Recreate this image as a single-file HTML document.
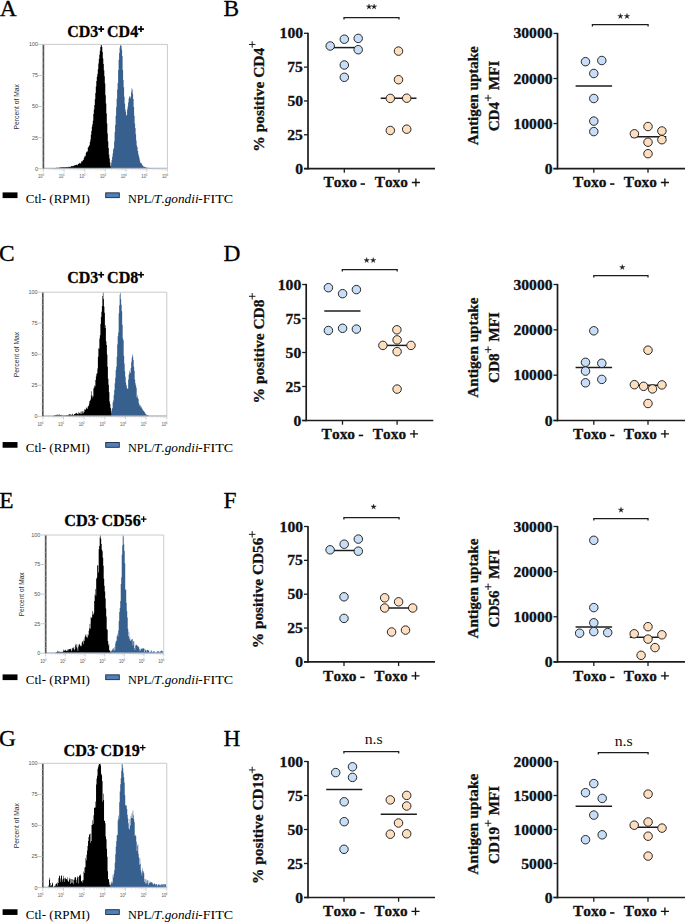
<!DOCTYPE html><html><head><meta charset="utf-8"><style>html,body{margin:0;padding:0;background:#fff;width:685px;height:922px;overflow:hidden}svg{display:block}text{font-kerning:none}</style></head><body><svg width="685" height="922" viewBox="0 0 685 922"><rect width="685" height="922" fill="#fff"/>
<text x="-0.23" y="15.60" font-family="&quot;Liberation Serif&quot;, serif" font-size="23.4" fill="#000" stroke="#000" stroke-width="0.3">A</text>
<text x="223.50" y="15.60" font-family="&quot;Liberation Serif&quot;, serif" font-size="23.4" fill="#000" stroke="#000" stroke-width="0.3">B</text>
<path d="M43.80,168.70 L43.80,168.65 L44.30,168.65 L44.30,168.62 L44.80,168.62 L44.80,168.61 L45.30,168.61 L45.30,168.57 L45.80,168.57 L45.80,168.57 L46.30,168.57 L46.30,168.53 L46.80,168.53 L46.80,168.50 L47.30,168.50 L47.30,168.50 L47.80,168.50 L47.80,168.45 L48.30,168.45 L48.30,168.45 L48.80,168.45 L48.80,168.40 L49.30,168.40 L49.30,168.37 L49.80,168.37 L49.80,168.38 L50.30,168.38 L50.30,168.42 L50.80,168.42 L50.80,168.30 L51.30,168.30 L51.30,168.27 L51.80,168.27 L51.80,168.28 L52.30,168.28 L52.30,168.33 L52.80,168.33 L52.80,168.19 L53.30,168.19 L53.30,168.10 L53.80,168.10 L53.80,168.23 L54.30,168.23 L54.30,167.95 L54.80,167.95 L54.80,168.12 L55.30,168.12 L55.30,167.89 L55.80,167.89 L55.80,167.82 L56.30,167.82 L56.30,167.76 L56.80,167.76 L56.80,167.75 L57.30,167.75 L57.30,167.91 L57.80,167.91 L57.80,167.63 L58.30,167.63 L58.30,167.72 L58.80,167.72 L58.80,167.70 L59.30,167.70 L59.30,167.55 L59.80,167.55 L59.80,167.59 L60.30,167.59 L60.30,167.39 L60.80,167.39 L60.80,167.34 L61.30,167.34 L61.30,167.34 L61.80,167.34 L61.80,167.52 L62.30,167.52 L62.30,167.34 L62.80,167.34 L62.80,167.25 L63.30,167.25 L63.30,167.36 L63.80,167.36 L63.80,167.24 L64.30,167.24 L64.30,167.13 L64.80,167.13 L64.80,167.40 L65.30,167.40 L65.30,167.29 L65.80,167.29 L65.80,166.99 L66.30,166.99 L66.30,167.13 L66.80,167.13 L66.80,167.06 L67.30,167.06 L67.30,167.31 L67.80,167.31 L67.80,167.15 L68.30,167.15 L68.30,166.81 L68.80,166.81 L68.80,167.33 L69.30,167.33 L69.30,166.65 L69.80,166.65 L69.80,166.76 L70.30,166.76 L70.30,166.91 L70.80,166.91 L70.80,166.27 L71.30,166.27 L71.30,166.32 L71.80,166.32 L71.80,165.87 L72.30,165.87 L72.30,166.19 L72.80,166.19 L72.80,166.16 L73.30,166.16 L73.30,165.75 L73.80,165.75 L73.80,166.04 L74.30,166.04 L74.30,165.11 L74.80,165.11 L74.80,165.44 L75.30,165.44 L75.30,165.12 L75.80,165.12 L75.80,164.93 L76.30,164.93 L76.30,164.58 L76.80,164.58 L76.80,165.10 L77.30,165.10 L77.30,165.19 L77.80,165.19 L77.80,163.97 L78.30,163.97 L78.30,164.01 L78.80,164.01 L78.80,162.78 L79.30,162.78 L79.30,163.46 L79.80,163.46 L79.80,163.01 L80.30,163.01 L80.30,163.70 L80.80,163.70 L80.80,162.86 L81.30,162.86 L81.30,161.22 L81.80,161.22 L81.80,161.06 L82.30,161.06 L82.30,161.45 L82.80,161.45 L82.80,159.83 L83.30,159.83 L83.30,159.95 L83.80,159.95 L83.80,158.09 L84.30,158.09 L84.30,156.76 L84.80,156.76 L84.80,155.43 L85.30,155.43 L85.30,156.35 L85.80,156.35 L85.80,152.99 L86.30,152.99 L86.30,151.90 L86.80,151.90 L86.80,150.94 L87.30,150.94 L87.30,151.74 L87.80,151.74 L87.80,147.38 L88.30,147.38 L88.30,146.96 L88.80,146.96 L88.80,145.95 L89.30,145.95 L89.30,145.06 L89.80,145.06 L89.80,142.05 L90.30,142.05 L90.30,139.49 L90.80,139.49 L90.80,134.78 L91.30,134.78 L91.30,130.92 L91.80,130.92 L91.80,126.86 L92.30,126.86 L92.30,124.35 L92.80,124.35 L92.80,120.65 L93.30,120.65 L93.30,113.93 L93.80,113.93 L93.80,109.48 L94.30,109.48 L94.30,105.10 L94.80,105.10 L94.80,99.27 L95.30,99.27 L95.30,92.99 L95.80,92.99 L95.80,86.44 L96.30,86.44 L96.30,80.94 L96.80,80.94 L96.80,76.67 L97.30,76.67 L97.30,74.11 L97.80,74.11 L97.80,69.16 L98.30,69.16 L98.30,63.46 L98.80,63.46 L98.80,59.07 L99.30,59.07 L99.30,54.78 L99.80,54.78 L99.80,50.75 L100.30,50.75 L100.30,46.94 L100.80,46.94 L100.80,45.32 L101.30,45.32 L101.30,44.93 L101.80,44.93 L101.80,46.88 L102.30,46.88 L102.30,52.10 L102.80,52.10 L102.80,58.43 L103.30,58.43 L103.30,63.96 L103.80,63.96 L103.80,70.31 L104.30,70.31 L104.30,76.27 L104.80,76.27 L104.80,83.47 L105.30,83.47 L105.30,95.18 L105.80,95.18 L105.80,103.40 L106.30,103.40 L106.30,113.39 L106.80,113.39 L106.80,123.54 L107.30,123.54 L107.30,133.48 L107.80,133.48 L107.80,141.56 L108.30,141.56 L108.30,148.12 L108.80,148.12 L108.80,154.58 L109.30,154.58 L109.30,158.46 L109.80,158.46 L109.80,162.13 L110.30,162.13 L110.30,165.64 L110.80,165.64 L110.80,166.55 L111.30,166.55 L111.30,167.96 L111.74,167.96 L111.74,168.70 Z" fill="#000" />
<path d="M110.60,168.70 L110.60,166.12 L111.10,166.12 L111.10,162.76 L111.60,162.76 L111.60,159.95 L112.10,159.95 L112.10,156.76 L112.60,156.76 L112.60,153.39 L113.10,153.39 L113.10,149.32 L113.60,149.32 L113.60,148.02 L114.10,148.02 L114.10,141.38 L114.60,141.38 L114.60,131.92 L115.10,131.92 L115.10,124.97 L115.60,124.97 L115.60,115.76 L116.10,115.76 L116.10,107.21 L116.60,107.21 L116.60,98.86 L117.10,98.86 L117.10,89.41 L117.60,89.41 L117.60,82.95 L118.10,82.95 L118.10,70.05 L118.60,70.05 L118.60,59.78 L119.10,59.78 L119.10,52.89 L119.60,52.89 L119.60,47.44 L120.10,47.44 L120.10,45.43 L120.60,45.43 L120.60,44.93 L121.10,44.93 L121.10,46.11 L121.60,46.11 L121.60,49.64 L122.10,49.64 L122.10,56.09 L122.60,56.09 L122.60,69.93 L123.10,69.93 L123.10,79.93 L123.60,79.93 L123.60,87.25 L124.10,87.25 L124.10,96.78 L124.60,96.78 L124.60,103.86 L125.10,103.86 L125.10,109.27 L125.60,109.27 L125.60,111.87 L126.10,111.87 L126.10,115.29 L126.60,115.29 L126.60,115.31 L127.10,115.31 L127.10,109.49 L127.60,109.49 L127.60,106.44 L128.10,106.44 L128.10,102.52 L128.60,102.52 L128.60,98.74 L129.10,98.74 L129.10,96.76 L129.60,96.76 L129.60,96.25 L130.10,96.25 L130.10,98.29 L130.60,98.29 L130.60,96.60 L131.10,96.60 L131.10,91.79 L131.60,91.79 L131.60,88.22 L132.10,88.22 L132.10,89.50 L132.60,89.50 L132.60,93.66 L133.10,93.66 L133.10,99.08 L133.60,99.08 L133.60,106.99 L134.10,106.99 L134.10,115.82 L134.60,115.82 L134.60,123.52 L135.10,123.52 L135.10,128.05 L135.60,128.05 L135.60,134.35 L136.10,134.35 L136.10,140.48 L136.60,140.48 L136.60,145.56 L137.10,145.56 L137.10,147.25 L137.60,147.25 L137.60,151.11 L138.10,151.11 L138.10,153.74 L138.60,153.74 L138.60,155.66 L139.10,155.66 L139.10,157.65 L139.60,157.65 L139.60,160.62 L140.10,160.62 L140.10,162.46 L140.60,162.46 L140.60,163.08 L141.10,163.08 L141.10,163.06 L141.60,163.06 L141.60,164.30 L142.10,164.30 L142.10,165.42 L142.60,165.42 L142.60,165.35 L143.10,165.35 L143.10,166.14 L143.60,166.14 L143.60,166.71 L144.10,166.71 L144.10,166.78 L144.60,166.78 L144.60,166.98 L145.10,166.98 L145.10,167.02 L145.60,167.02 L145.60,167.16 L146.10,167.16 L146.10,167.72 L146.60,167.72 L146.60,167.63 L147.10,167.63 L147.10,167.87 L147.60,167.87 L147.60,168.00 L148.10,168.00 L148.10,167.79 L148.60,167.79 L148.60,167.84 L149.10,167.84 L149.10,168.09 L149.60,168.09 L149.60,168.04 L150.10,168.04 L150.10,167.93 L150.60,167.93 L150.60,167.97 L151.10,167.97 L151.10,168.03 L151.60,168.03 L151.60,168.25 L152.10,168.25 L152.10,168.26 L152.60,168.26 L152.60,168.17 L153.10,168.17 L153.10,168.34 L153.60,168.34 L153.60,168.41 L154.10,168.41 L154.10,168.37 L154.60,168.37 L154.60,168.34 L155.10,168.34 L155.10,168.38 L155.60,168.38 L155.60,168.35 L156.10,168.35 L156.10,168.37 L156.60,168.37 L156.60,168.49 L157.10,168.49 L157.10,168.45 L157.60,168.45 L157.60,168.45 L158.10,168.45 L158.10,168.52 L158.60,168.52 L158.60,168.47 L159.10,168.47 L159.10,168.53 L159.60,168.53 L159.60,168.54 L160.10,168.54 L160.10,168.51 L160.60,168.51 L160.60,168.52 L161.10,168.52 L161.10,168.54 L161.60,168.54 L161.60,168.56 L162.10,168.56 L162.10,168.59 L162.60,168.59 L162.60,168.59 L163.10,168.59 L163.10,168.61 L163.60,168.61 L163.60,168.62 L164.10,168.62 L164.10,168.65 L164.60,168.65 L164.60,168.65 L165.10,168.65 L165.10,168.67 L165.26,168.67 L165.26,168.70 Z" fill="#37608f" />
<line x1="43.4" y1="168.2" x2="167.4" y2="168.2" stroke="#8fa9c9" stroke-width="0.8"/>
<path d="M43.4,44.4 L167.4,44.4 L167.4,168.7 L43.4,168.7" fill="none" stroke="#c4c4c4" stroke-width="0.9"/>
<line x1="43.4" y1="44.8" x2="43.4" y2="168.7" stroke="#555" stroke-width="1.7"/>
<line x1="38.199999999999996" y1="168.70" x2="43.4" y2="168.70" stroke="#bdbdbd" stroke-width="0.8"/>
<text x="38.00" y="170.60" font-family="&quot;Liberation Sans&quot;, sans-serif" font-size="5.4" fill="#555" text-anchor="end" >0</text>
<line x1="41.0" y1="162.48" x2="43.4" y2="162.48" stroke="#d8d8d8" stroke-width="0.6"/>
<line x1="41.0" y1="156.27" x2="43.4" y2="156.27" stroke="#d8d8d8" stroke-width="0.6"/>
<line x1="41.0" y1="150.06" x2="43.4" y2="150.06" stroke="#d8d8d8" stroke-width="0.6"/>
<line x1="41.0" y1="143.84" x2="43.4" y2="143.84" stroke="#d8d8d8" stroke-width="0.6"/>
<line x1="38.199999999999996" y1="137.62" x2="43.4" y2="137.62" stroke="#bdbdbd" stroke-width="0.8"/>
<text x="38.00" y="139.53" font-family="&quot;Liberation Sans&quot;, sans-serif" font-size="5.4" fill="#555" text-anchor="end" >25</text>
<line x1="41.0" y1="131.41" x2="43.4" y2="131.41" stroke="#d8d8d8" stroke-width="0.6"/>
<line x1="41.0" y1="125.19" x2="43.4" y2="125.19" stroke="#d8d8d8" stroke-width="0.6"/>
<line x1="41.0" y1="118.98" x2="43.4" y2="118.98" stroke="#d8d8d8" stroke-width="0.6"/>
<line x1="41.0" y1="112.77" x2="43.4" y2="112.77" stroke="#d8d8d8" stroke-width="0.6"/>
<line x1="38.199999999999996" y1="106.55" x2="43.4" y2="106.55" stroke="#bdbdbd" stroke-width="0.8"/>
<text x="38.00" y="108.45" font-family="&quot;Liberation Sans&quot;, sans-serif" font-size="5.4" fill="#555" text-anchor="end" >50</text>
<line x1="41.0" y1="100.33" x2="43.4" y2="100.33" stroke="#d8d8d8" stroke-width="0.6"/>
<line x1="41.0" y1="94.12" x2="43.4" y2="94.12" stroke="#d8d8d8" stroke-width="0.6"/>
<line x1="41.0" y1="87.91" x2="43.4" y2="87.91" stroke="#d8d8d8" stroke-width="0.6"/>
<line x1="41.0" y1="81.69" x2="43.4" y2="81.69" stroke="#d8d8d8" stroke-width="0.6"/>
<line x1="38.199999999999996" y1="75.48" x2="43.4" y2="75.48" stroke="#bdbdbd" stroke-width="0.8"/>
<text x="38.00" y="77.38" font-family="&quot;Liberation Sans&quot;, sans-serif" font-size="5.4" fill="#555" text-anchor="end" >75</text>
<line x1="41.0" y1="69.26" x2="43.4" y2="69.26" stroke="#d8d8d8" stroke-width="0.6"/>
<line x1="41.0" y1="63.05" x2="43.4" y2="63.05" stroke="#d8d8d8" stroke-width="0.6"/>
<line x1="41.0" y1="56.83" x2="43.4" y2="56.83" stroke="#d8d8d8" stroke-width="0.6"/>
<line x1="41.0" y1="50.62" x2="43.4" y2="50.62" stroke="#d8d8d8" stroke-width="0.6"/>
<line x1="38.199999999999996" y1="44.40" x2="43.4" y2="44.40" stroke="#bdbdbd" stroke-width="0.8"/>
<text x="38.00" y="46.30" font-family="&quot;Liberation Sans&quot;, sans-serif" font-size="5.4" fill="#555" text-anchor="end" >100</text>
<line x1="43.40" y1="168.7" x2="43.40" y2="171.89999999999998" stroke="#bdbdbd" stroke-width="0.7"/>
<line x1="49.62" y1="168.7" x2="49.62" y2="170.5" stroke="#d0d0d0" stroke-width="0.5"/>
<line x1="53.26" y1="168.7" x2="53.26" y2="170.5" stroke="#d0d0d0" stroke-width="0.5"/>
<line x1="55.84" y1="168.7" x2="55.84" y2="170.5" stroke="#d0d0d0" stroke-width="0.5"/>
<line x1="57.85" y1="168.7" x2="57.85" y2="170.5" stroke="#d0d0d0" stroke-width="0.5"/>
<line x1="59.48" y1="168.7" x2="59.48" y2="170.5" stroke="#d0d0d0" stroke-width="0.5"/>
<line x1="60.87" y1="168.7" x2="60.87" y2="170.5" stroke="#d0d0d0" stroke-width="0.5"/>
<line x1="62.06" y1="168.7" x2="62.06" y2="170.5" stroke="#d0d0d0" stroke-width="0.5"/>
<line x1="63.12" y1="168.7" x2="63.12" y2="170.5" stroke="#d0d0d0" stroke-width="0.5"/>
<text x="38.00" y="178.00" font-family="&quot;Liberation Sans&quot;, sans-serif" font-size="5.4" fill="#555" text-anchor="start" textLength="6.0" lengthAdjust="spacingAndGlyphs">10<tspan dy="-1.8" font-size="3.2">0</tspan></text>
<line x1="64.07" y1="168.7" x2="64.07" y2="171.89999999999998" stroke="#bdbdbd" stroke-width="0.7"/>
<line x1="70.29" y1="168.7" x2="70.29" y2="170.5" stroke="#d0d0d0" stroke-width="0.5"/>
<line x1="73.93" y1="168.7" x2="73.93" y2="170.5" stroke="#d0d0d0" stroke-width="0.5"/>
<line x1="76.51" y1="168.7" x2="76.51" y2="170.5" stroke="#d0d0d0" stroke-width="0.5"/>
<line x1="78.51" y1="168.7" x2="78.51" y2="170.5" stroke="#d0d0d0" stroke-width="0.5"/>
<line x1="80.15" y1="168.7" x2="80.15" y2="170.5" stroke="#d0d0d0" stroke-width="0.5"/>
<line x1="81.53" y1="168.7" x2="81.53" y2="170.5" stroke="#d0d0d0" stroke-width="0.5"/>
<line x1="82.73" y1="168.7" x2="82.73" y2="170.5" stroke="#d0d0d0" stroke-width="0.5"/>
<line x1="83.79" y1="168.7" x2="83.79" y2="170.5" stroke="#d0d0d0" stroke-width="0.5"/>
<text x="58.67" y="178.00" font-family="&quot;Liberation Sans&quot;, sans-serif" font-size="5.4" fill="#555" text-anchor="start" textLength="6.0" lengthAdjust="spacingAndGlyphs">10<tspan dy="-1.8" font-size="3.2">1</tspan></text>
<line x1="84.73" y1="168.7" x2="84.73" y2="171.89999999999998" stroke="#bdbdbd" stroke-width="0.7"/>
<line x1="90.95" y1="168.7" x2="90.95" y2="170.5" stroke="#d0d0d0" stroke-width="0.5"/>
<line x1="94.59" y1="168.7" x2="94.59" y2="170.5" stroke="#d0d0d0" stroke-width="0.5"/>
<line x1="97.18" y1="168.7" x2="97.18" y2="170.5" stroke="#d0d0d0" stroke-width="0.5"/>
<line x1="99.18" y1="168.7" x2="99.18" y2="170.5" stroke="#d0d0d0" stroke-width="0.5"/>
<line x1="100.82" y1="168.7" x2="100.82" y2="170.5" stroke="#d0d0d0" stroke-width="0.5"/>
<line x1="102.20" y1="168.7" x2="102.20" y2="170.5" stroke="#d0d0d0" stroke-width="0.5"/>
<line x1="103.40" y1="168.7" x2="103.40" y2="170.5" stroke="#d0d0d0" stroke-width="0.5"/>
<line x1="104.45" y1="168.7" x2="104.45" y2="170.5" stroke="#d0d0d0" stroke-width="0.5"/>
<text x="79.33" y="178.00" font-family="&quot;Liberation Sans&quot;, sans-serif" font-size="5.4" fill="#555" text-anchor="start" textLength="6.0" lengthAdjust="spacingAndGlyphs">10<tspan dy="-1.8" font-size="3.2">2</tspan></text>
<line x1="105.40" y1="168.7" x2="105.40" y2="171.89999999999998" stroke="#bdbdbd" stroke-width="0.7"/>
<line x1="111.62" y1="168.7" x2="111.62" y2="170.5" stroke="#d0d0d0" stroke-width="0.5"/>
<line x1="115.26" y1="168.7" x2="115.26" y2="170.5" stroke="#d0d0d0" stroke-width="0.5"/>
<line x1="117.84" y1="168.7" x2="117.84" y2="170.5" stroke="#d0d0d0" stroke-width="0.5"/>
<line x1="119.85" y1="168.7" x2="119.85" y2="170.5" stroke="#d0d0d0" stroke-width="0.5"/>
<line x1="121.48" y1="168.7" x2="121.48" y2="170.5" stroke="#d0d0d0" stroke-width="0.5"/>
<line x1="122.87" y1="168.7" x2="122.87" y2="170.5" stroke="#d0d0d0" stroke-width="0.5"/>
<line x1="124.06" y1="168.7" x2="124.06" y2="170.5" stroke="#d0d0d0" stroke-width="0.5"/>
<line x1="125.12" y1="168.7" x2="125.12" y2="170.5" stroke="#d0d0d0" stroke-width="0.5"/>
<text x="100.00" y="178.00" font-family="&quot;Liberation Sans&quot;, sans-serif" font-size="5.4" fill="#555" text-anchor="start" textLength="6.0" lengthAdjust="spacingAndGlyphs">10<tspan dy="-1.8" font-size="3.2">3</tspan></text>
<line x1="126.07" y1="168.7" x2="126.07" y2="171.89999999999998" stroke="#bdbdbd" stroke-width="0.7"/>
<line x1="132.29" y1="168.7" x2="132.29" y2="170.5" stroke="#d0d0d0" stroke-width="0.5"/>
<line x1="135.93" y1="168.7" x2="135.93" y2="170.5" stroke="#d0d0d0" stroke-width="0.5"/>
<line x1="138.51" y1="168.7" x2="138.51" y2="170.5" stroke="#d0d0d0" stroke-width="0.5"/>
<line x1="140.51" y1="168.7" x2="140.51" y2="170.5" stroke="#d0d0d0" stroke-width="0.5"/>
<line x1="142.15" y1="168.7" x2="142.15" y2="170.5" stroke="#d0d0d0" stroke-width="0.5"/>
<line x1="143.53" y1="168.7" x2="143.53" y2="170.5" stroke="#d0d0d0" stroke-width="0.5"/>
<line x1="144.73" y1="168.7" x2="144.73" y2="170.5" stroke="#d0d0d0" stroke-width="0.5"/>
<line x1="145.79" y1="168.7" x2="145.79" y2="170.5" stroke="#d0d0d0" stroke-width="0.5"/>
<text x="120.67" y="178.00" font-family="&quot;Liberation Sans&quot;, sans-serif" font-size="5.4" fill="#555" text-anchor="start" textLength="6.0" lengthAdjust="spacingAndGlyphs">10<tspan dy="-1.8" font-size="3.2">4</tspan></text>
<line x1="146.73" y1="168.7" x2="146.73" y2="171.89999999999998" stroke="#bdbdbd" stroke-width="0.7"/>
<line x1="152.95" y1="168.7" x2="152.95" y2="170.5" stroke="#d0d0d0" stroke-width="0.5"/>
<line x1="156.59" y1="168.7" x2="156.59" y2="170.5" stroke="#d0d0d0" stroke-width="0.5"/>
<line x1="159.18" y1="168.7" x2="159.18" y2="170.5" stroke="#d0d0d0" stroke-width="0.5"/>
<line x1="161.18" y1="168.7" x2="161.18" y2="170.5" stroke="#d0d0d0" stroke-width="0.5"/>
<line x1="162.82" y1="168.7" x2="162.82" y2="170.5" stroke="#d0d0d0" stroke-width="0.5"/>
<line x1="164.20" y1="168.7" x2="164.20" y2="170.5" stroke="#d0d0d0" stroke-width="0.5"/>
<line x1="165.40" y1="168.7" x2="165.40" y2="170.5" stroke="#d0d0d0" stroke-width="0.5"/>
<line x1="166.45" y1="168.7" x2="166.45" y2="170.5" stroke="#d0d0d0" stroke-width="0.5"/>
<text x="141.33" y="178.00" font-family="&quot;Liberation Sans&quot;, sans-serif" font-size="5.4" fill="#555" text-anchor="start" textLength="6.0" lengthAdjust="spacingAndGlyphs">10<tspan dy="-1.8" font-size="3.2">5</tspan></text>
<line x1="167.40" y1="168.7" x2="167.40" y2="171.89999999999998" stroke="#bdbdbd" stroke-width="0.7"/>
<text x="162.00" y="178.00" font-family="&quot;Liberation Sans&quot;, sans-serif" font-size="5.4" fill="#555" text-anchor="start" textLength="6.0" lengthAdjust="spacingAndGlyphs">10<tspan dy="-1.8" font-size="3.2">6</tspan></text>
<text transform="translate(19.00,128.90) rotate(-90)" x="-0.54" y="0" font-family="&quot;Liberation Sans&quot;, sans-serif" font-size="6.8" fill="#333" textLength="45.31" lengthAdjust="spacingAndGlyphs" >Percent of Max</text>
<text x="67.30" y="36.80" font-family="&quot;Liberation Serif&quot;, serif" font-size="16.3" fill="#000" font-weight="bold" stroke="#000" stroke-width="0.3" textLength="31.05" lengthAdjust="spacingAndGlyphs" >CD3</text>
<path d="M98.20,29.05 H104.10 M101.15,26.10 V32.00" stroke="#000" stroke-width="1.65" fill="none"/>
<text x="107.10" y="36.80" font-family="&quot;Liberation Serif&quot;, serif" font-size="16.3" fill="#000" font-weight="bold" stroke="#000" stroke-width="0.3" textLength="31.01" lengthAdjust="spacingAndGlyphs" >CD4</text>
<path d="M138.05,29.05 H143.95 M141.00,26.10 V32.00" stroke="#000" stroke-width="1.65" fill="none"/>
<rect x="2.6" y="192.40" width="14.9" height="5.7" fill="#000"/>
<text x="25.78" y="202.50" font-family="&quot;Liberation Serif&quot;, serif" font-size="13.3" fill="#000" textLength="64.07" lengthAdjust="spacingAndGlyphs" >Ctl- (RPMI)</text>
<rect x="105.7" y="192.85" width="13.6" height="4.8" fill="#4f7fbd" stroke="#1e2a3a" stroke-width="0.9"/>
<text x="127.93" y="202.50" font-family="&quot;Liberation Serif&quot;, serif" font-size="13.3" fill="#000" textLength="26.69" lengthAdjust="spacingAndGlyphs" >NPL/</text>
<text x="154.02" y="202.50" font-family="&quot;Liberation Serif&quot;, serif" font-size="13.3" fill="#000" font-style="italic" textLength="44.55" lengthAdjust="spacingAndGlyphs" >T.gondii</text>
<text x="198.01" y="202.50" font-family="&quot;Liberation Serif&quot;, serif" font-size="13.3" fill="#000" textLength="35.06" lengthAdjust="spacingAndGlyphs" >-FITC</text>
<line x1="308" y1="32.70" x2="308" y2="169.40" stroke="#1c1c1c" stroke-width="1.7"/>
<line x1="304" y1="168.6" x2="435" y2="168.6" stroke="#1c1c1c" stroke-width="1.7"/>
<line x1="304" y1="33.30" x2="308" y2="33.30" stroke="#1c1c1c" stroke-width="1.3"/>
<text x="279.59" y="38.30" font-family="&quot;Liberation Serif&quot;, serif" font-size="14.6" fill="#111" font-weight="bold" stroke="#111" stroke-width="0.3" textLength="23.43" lengthAdjust="spacingAndGlyphs" >100</text>
<line x1="304" y1="67.12" x2="308" y2="67.12" stroke="#1c1c1c" stroke-width="1.3"/>
<text x="287.32" y="72.12" font-family="&quot;Liberation Serif&quot;, serif" font-size="14.6" fill="#111" font-weight="bold" stroke="#111" stroke-width="0.3" textLength="15.62" lengthAdjust="spacingAndGlyphs" >75</text>
<line x1="304" y1="100.95" x2="308" y2="100.95" stroke="#1c1c1c" stroke-width="1.3"/>
<text x="287.40" y="105.95" font-family="&quot;Liberation Serif&quot;, serif" font-size="14.6" fill="#111" font-weight="bold" stroke="#111" stroke-width="0.3" textLength="15.62" lengthAdjust="spacingAndGlyphs" >50</text>
<line x1="304" y1="134.77" x2="308" y2="134.77" stroke="#1c1c1c" stroke-width="1.3"/>
<text x="287.32" y="139.77" font-family="&quot;Liberation Serif&quot;, serif" font-size="14.6" fill="#111" font-weight="bold" stroke="#111" stroke-width="0.3" textLength="15.62" lengthAdjust="spacingAndGlyphs" >25</text>
<line x1="304" y1="168.60" x2="308" y2="168.60" stroke="#1c1c1c" stroke-width="1.3"/>
<text x="295.21" y="173.60" font-family="&quot;Liberation Serif&quot;, serif" font-size="14.6" fill="#111" font-weight="bold" stroke="#111" stroke-width="0.3" textLength="7.81" lengthAdjust="spacingAndGlyphs" >0</text>
<line x1="344.3" y1="168.6" x2="344.3" y2="172.79999999999998" stroke="#1c1c1c" stroke-width="1.3"/>
<line x1="399.0" y1="168.6" x2="399.0" y2="172.79999999999998" stroke="#1c1c1c" stroke-width="1.3"/>
<text x="323.41" y="187.40" font-family="&quot;Liberation Serif&quot;, serif" font-size="15.0" fill="#111" font-weight="bold" stroke="#111" stroke-width="0.3" textLength="33.49" lengthAdjust="spacingAndGlyphs" >Toxo</text>
<rect x="360.55" y="183.25" width="4.4" height="1.6" fill="#111"/>
<text x="374.76" y="187.40" font-family="&quot;Liberation Serif&quot;, serif" font-size="15.0" fill="#111" font-weight="bold" stroke="#111" stroke-width="0.3" textLength="33.18" lengthAdjust="spacingAndGlyphs" >Toxo</text>
<path d="M411.85,182.50 H419.95 M415.90,178.50 V186.40" stroke="#111" stroke-width="1.35" fill="none"/>
<line x1="333" y1="47.6" x2="359" y2="47.6" stroke="#1c1c1c" stroke-width="1.5"/>
<line x1="380.7" y1="98.2" x2="416.5" y2="98.2" stroke="#1c1c1c" stroke-width="1.5"/>
<circle cx="330.2" cy="46.0" r="4.25" fill="#c8def8" stroke="#1c1c1c" stroke-width="0.95"/>
<circle cx="344.3" cy="39.2" r="4.25" fill="#c8def8" stroke="#1c1c1c" stroke-width="0.95"/>
<circle cx="358.2" cy="38.4" r="4.25" fill="#c8def8" stroke="#1c1c1c" stroke-width="0.95"/>
<circle cx="358.2" cy="49.7" r="4.25" fill="#c8def8" stroke="#1c1c1c" stroke-width="0.95"/>
<circle cx="344.3" cy="65.0" r="4.25" fill="#c8def8" stroke="#1c1c1c" stroke-width="0.95"/>
<circle cx="344.3" cy="77.3" r="4.25" fill="#c8def8" stroke="#1c1c1c" stroke-width="0.95"/>
<circle cx="398.5" cy="51.1" r="4.25" fill="#fddfc0" stroke="#1c1c1c" stroke-width="0.95"/>
<circle cx="398.5" cy="79.7" r="4.25" fill="#fddfc0" stroke="#1c1c1c" stroke-width="0.95"/>
<circle cx="390.3" cy="98.4" r="4.25" fill="#fddfc0" stroke="#1c1c1c" stroke-width="0.95"/>
<circle cx="406.7" cy="98.2" r="4.25" fill="#fddfc0" stroke="#1c1c1c" stroke-width="0.95"/>
<circle cx="390.3" cy="130.5" r="4.25" fill="#fddfc0" stroke="#1c1c1c" stroke-width="0.95"/>
<circle cx="406.7" cy="129.2" r="4.25" fill="#fddfc0" stroke="#1c1c1c" stroke-width="0.95"/>
<path d="M344.0,19.4 V17.5 H399.0 V19.4" fill="none" stroke="#1c1c1c" stroke-width="1.25"/>
<path d="M369.00,3.90 L369.59,5.89 L371.66,5.83 L369.95,7.01 L370.65,8.97 L369.00,7.70 L367.35,8.97 L368.05,7.01 L366.34,5.83 L368.41,5.89 Z" fill="#1a1a1a" stroke="#1a1a1a" stroke-width="0.35" stroke-linejoin="round"/>
<path d="M374.10,3.90 L374.69,5.89 L376.76,5.83 L375.05,7.01 L375.75,8.97 L374.10,7.70 L372.45,8.97 L373.15,7.01 L371.44,5.83 L373.51,5.89 Z" fill="#1a1a1a" stroke="#1a1a1a" stroke-width="0.35" stroke-linejoin="round"/>
<text transform="translate(263.50,150.10) rotate(-90)" x="-1.54" y="0" font-family="&quot;Liberation Serif&quot;, serif" font-size="15.0" fill="#111" font-weight="bold" stroke="#111" stroke-width="0.3" textLength="103.79" lengthAdjust="spacingAndGlyphs" >% positive CD4</text>
<path d="M248.95,44.45 H255.45 M252.20,41.20 V47.70" stroke="#111" stroke-width="0.95" fill="none"/>
<line x1="557.5" y1="32.85" x2="557.5" y2="169.40" stroke="#1c1c1c" stroke-width="1.7"/>
<line x1="553.5" y1="168.6" x2="685" y2="168.6" stroke="#1c1c1c" stroke-width="1.7"/>
<line x1="553.5" y1="33.45" x2="557.5" y2="33.45" stroke="#1c1c1c" stroke-width="1.3"/>
<text x="513.47" y="38.45" font-family="&quot;Liberation Serif&quot;, serif" font-size="14.6" fill="#111" font-weight="bold" stroke="#111" stroke-width="0.3" textLength="39.05" lengthAdjust="spacingAndGlyphs" >30000</text>
<line x1="553.5" y1="78.50" x2="557.5" y2="78.50" stroke="#1c1c1c" stroke-width="1.3"/>
<text x="513.47" y="83.50" font-family="&quot;Liberation Serif&quot;, serif" font-size="14.6" fill="#111" font-weight="bold" stroke="#111" stroke-width="0.3" textLength="39.06" lengthAdjust="spacingAndGlyphs" >20000</text>
<line x1="553.5" y1="123.55" x2="557.5" y2="123.55" stroke="#1c1c1c" stroke-width="1.3"/>
<text x="513.47" y="128.55" font-family="&quot;Liberation Serif&quot;, serif" font-size="14.6" fill="#111" font-weight="bold" stroke="#111" stroke-width="0.3" textLength="39.05" lengthAdjust="spacingAndGlyphs" >10000</text>
<line x1="553.5" y1="168.60" x2="557.5" y2="168.60" stroke="#1c1c1c" stroke-width="1.3"/>
<text x="544.71" y="173.60" font-family="&quot;Liberation Serif&quot;, serif" font-size="14.6" fill="#111" font-weight="bold" stroke="#111" stroke-width="0.3" textLength="7.81" lengthAdjust="spacingAndGlyphs" >0</text>
<line x1="593.8" y1="168.6" x2="593.8" y2="172.79999999999998" stroke="#1c1c1c" stroke-width="1.3"/>
<line x1="648.0" y1="168.6" x2="648.0" y2="172.79999999999998" stroke="#1c1c1c" stroke-width="1.3"/>
<text x="572.91" y="187.40" font-family="&quot;Liberation Serif&quot;, serif" font-size="15.0" fill="#111" font-weight="bold" stroke="#111" stroke-width="0.3" textLength="33.49" lengthAdjust="spacingAndGlyphs" >Toxo</text>
<rect x="610.05" y="183.25" width="4.4" height="1.6" fill="#111"/>
<text x="623.76" y="187.40" font-family="&quot;Liberation Serif&quot;, serif" font-size="15.0" fill="#111" font-weight="bold" stroke="#111" stroke-width="0.3" textLength="33.18" lengthAdjust="spacingAndGlyphs" >Toxo</text>
<path d="M660.85,182.50 H668.95 M664.90,178.50 V186.40" stroke="#111" stroke-width="1.35" fill="none"/>
<line x1="575.6" y1="85.9" x2="612.1" y2="85.9" stroke="#1c1c1c" stroke-width="1.5"/>
<line x1="631" y1="136.7" x2="666.3" y2="136.7" stroke="#1c1c1c" stroke-width="1.5"/>
<circle cx="585.5" cy="61.7" r="4.25" fill="#c8def8" stroke="#1c1c1c" stroke-width="0.95"/>
<circle cx="601.8" cy="60.5" r="4.25" fill="#c8def8" stroke="#1c1c1c" stroke-width="0.95"/>
<circle cx="593.8" cy="73.5" r="4.25" fill="#c8def8" stroke="#1c1c1c" stroke-width="0.95"/>
<circle cx="593.8" cy="98.5" r="4.25" fill="#c8def8" stroke="#1c1c1c" stroke-width="0.95"/>
<circle cx="593.8" cy="121.1" r="4.25" fill="#c8def8" stroke="#1c1c1c" stroke-width="0.95"/>
<circle cx="593.8" cy="131.6" r="4.25" fill="#c8def8" stroke="#1c1c1c" stroke-width="0.95"/>
<circle cx="634.4" cy="133.8" r="4.25" fill="#fddfc0" stroke="#1c1c1c" stroke-width="0.95"/>
<circle cx="648" cy="126.5" r="4.25" fill="#fddfc0" stroke="#1c1c1c" stroke-width="0.95"/>
<circle cx="661.9" cy="131" r="4.25" fill="#fddfc0" stroke="#1c1c1c" stroke-width="0.95"/>
<circle cx="661.9" cy="139.7" r="4.25" fill="#fddfc0" stroke="#1c1c1c" stroke-width="0.95"/>
<circle cx="648" cy="142.2" r="4.25" fill="#fddfc0" stroke="#1c1c1c" stroke-width="0.95"/>
<circle cx="648" cy="153.7" r="4.25" fill="#fddfc0" stroke="#1c1c1c" stroke-width="0.95"/>
<path d="M592.4,26.4 V24.5 H648.1 V26.4" fill="none" stroke="#1c1c1c" stroke-width="1.25"/>
<path d="M620.40,13.45 L620.99,15.44 L623.06,15.38 L621.35,16.56 L622.05,18.52 L620.40,17.25 L618.75,18.52 L619.45,16.56 L617.74,15.38 L619.81,15.44 Z" fill="#1a1a1a" stroke="#1a1a1a" stroke-width="0.35" stroke-linejoin="round"/>
<path d="M627.00,13.45 L627.59,15.44 L629.66,15.38 L627.95,16.56 L628.65,18.52 L627.00,17.25 L625.35,18.52 L626.05,16.56 L624.34,15.38 L626.41,15.44 Z" fill="#1a1a1a" stroke="#1a1a1a" stroke-width="0.35" stroke-linejoin="round"/>
<text transform="translate(478.10,145.00) rotate(-90)" x="-0.15" y="0" font-family="&quot;Liberation Serif&quot;, serif" font-size="15.0" fill="#111" font-weight="bold" stroke="#111" stroke-width="0.3" textLength="98.92" lengthAdjust="spacingAndGlyphs" >Antigen uptake</text>
<text transform="translate(498.60,130.60) rotate(-90)" x="-0.76" y="0" font-family="&quot;Liberation Serif&quot;, serif" font-size="15.0" fill="#111" font-weight="bold" stroke="#111" stroke-width="0.3" textLength="29.45" lengthAdjust="spacingAndGlyphs" >CD4</text>
<path d="M484.85,98.00 H491.35 M488.10,94.75 V101.25" stroke="#111" stroke-width="0.95" fill="none"/>
<text transform="translate(498.60,89.70) rotate(-90)" x="-0.23" y="0" font-family="&quot;Liberation Serif&quot;, serif" font-size="15.0" fill="#111" font-weight="bold" stroke="#111" stroke-width="0.3" textLength="29.34" lengthAdjust="spacingAndGlyphs" >MFI</text>
<text x="-0.94" y="261.20" font-family="&quot;Liberation Serif&quot;, serif" font-size="23.4" fill="#000" stroke="#000" stroke-width="0.3">C</text>
<text x="223.50" y="261.20" font-family="&quot;Liberation Serif&quot;, serif" font-size="23.4" fill="#000" stroke="#000" stroke-width="0.3">D</text>
<path d="M51.39,416.30 L51.39,416.18 L51.89,416.18 L51.89,416.15 L52.39,416.15 L52.39,415.91 L52.89,415.91 L52.89,416.02 L53.39,416.02 L53.39,415.70 L53.89,415.70 L53.89,415.59 L54.39,415.59 L54.39,415.47 L54.89,415.47 L54.89,415.10 L55.39,415.10 L55.39,415.19 L55.89,415.19 L55.89,414.91 L56.39,414.91 L56.39,414.73 L56.89,414.73 L56.89,415.31 L57.39,415.31 L57.39,414.54 L57.89,414.54 L57.89,414.70 L58.39,414.70 L58.39,414.96 L58.89,414.96 L58.89,414.69 L59.39,414.69 L59.39,414.54 L59.89,414.54 L59.89,414.89 L60.39,414.89 L60.39,415.07 L60.89,415.07 L60.89,415.45 L61.39,415.45 L61.39,415.07 L61.89,415.07 L61.89,415.48 L62.39,415.48 L62.39,415.46 L62.89,415.46 L62.89,415.52 L63.39,415.52 L63.39,415.75 L63.89,415.75 L63.89,415.52 L64.39,415.52 L64.39,415.50 L64.89,415.50 L64.89,415.62 L65.39,415.62 L65.39,415.73 L65.89,415.73 L65.89,415.26 L66.39,415.26 L66.39,415.35 L66.89,415.35 L66.89,415.20 L67.39,415.20 L67.39,415.15 L67.89,415.15 L67.89,415.29 L68.39,415.29 L68.39,414.75 L68.89,414.75 L68.89,414.53 L69.39,414.53 L69.39,414.12 L69.89,414.12 L69.89,414.86 L70.39,414.86 L70.39,414.25 L70.89,414.25 L70.89,414.76 L71.39,414.76 L71.39,414.99 L71.89,414.99 L71.89,413.82 L72.39,413.82 L72.39,414.35 L72.89,414.35 L72.89,415.18 L73.39,415.18 L73.39,415.03 L73.89,415.03 L73.89,414.15 L74.39,414.15 L74.39,413.89 L74.89,413.89 L74.89,414.02 L75.39,414.02 L75.39,413.37 L75.89,413.37 L75.89,413.28 L76.39,413.28 L76.39,412.87 L76.89,412.87 L76.89,413.70 L77.39,413.70 L77.39,413.86 L77.89,413.86 L77.89,414.15 L78.39,414.15 L78.39,412.19 L78.89,412.19 L78.89,413.38 L79.39,413.38 L79.39,413.11 L79.89,413.11 L79.89,411.81 L80.39,411.81 L80.39,413.73 L80.89,413.73 L80.89,414.00 L81.39,414.00 L81.39,411.50 L81.89,411.50 L81.89,413.62 L82.39,413.62 L82.39,411.23 L82.89,411.23 L82.89,411.18 L83.39,411.18 L83.39,413.18 L83.89,413.18 L83.89,412.10 L84.39,412.10 L84.39,409.21 L84.89,409.21 L84.89,409.66 L85.39,409.66 L85.39,409.61 L85.89,409.61 L85.89,408.44 L86.39,408.44 L86.39,407.51 L86.89,407.51 L86.89,407.43 L87.39,407.43 L87.39,409.08 L87.89,409.08 L87.89,405.68 L88.39,405.68 L88.39,406.34 L88.89,406.34 L88.89,404.29 L89.39,404.29 L89.39,401.20 L89.89,401.20 L89.89,400.50 L90.39,400.50 L90.39,399.45 L90.89,399.45 L90.89,395.38 L91.39,395.38 L91.39,391.35 L91.89,391.35 L91.89,397.85 L92.39,397.85 L92.39,395.45 L92.89,395.45 L92.89,396.39 L93.39,396.39 L93.39,388.42 L93.89,388.42 L93.89,387.52 L94.39,387.52 L94.39,385.27 L94.89,385.27 L94.89,386.35 L95.39,386.35 L95.39,380.04 L95.89,380.04 L95.89,376.53 L96.39,376.53 L96.39,373.78 L96.89,373.78 L96.89,373.15 L97.39,373.15 L97.39,368.43 L97.89,368.43 L97.89,356.69 L98.39,356.69 L98.39,348.35 L98.89,348.35 L98.89,348.86 L99.39,348.86 L99.39,338.39 L99.89,338.39 L99.89,335.29 L100.39,335.29 L100.39,323.99 L100.89,323.99 L100.89,316.88 L101.39,316.88 L101.39,311.64 L101.89,311.64 L101.89,306.10 L102.39,306.10 L102.39,295.93 L102.89,295.93 L102.89,292.55 L103.39,292.55 L103.39,298.90 L103.89,298.90 L103.89,306.40 L104.39,306.40 L104.39,312.72 L104.89,312.72 L104.89,328.02 L105.39,328.02 L105.39,325.05 L105.89,325.05 L105.89,341.24 L106.39,341.24 L106.39,344.89 L106.89,344.89 L106.89,354.58 L107.39,354.58 L107.39,366.63 L107.89,366.63 L107.89,378.68 L108.39,378.68 L108.39,384.67 L108.89,384.67 L108.89,392.21 L109.39,392.21 L109.39,401.47 L109.89,401.47 L109.89,403.94 L110.39,403.94 L110.39,407.77 L110.89,407.77 L110.89,410.92 L111.39,410.92 L111.39,413.02 L111.89,413.02 L111.89,415.31 L112.12,415.31 L112.12,416.30 Z" fill="#000" />
<path d="M111.17,416.30 L111.17,412.64 L111.67,412.64 L111.67,408.91 L112.17,408.91 L112.17,408.08 L112.67,408.08 L112.67,402.33 L113.17,402.33 L113.17,400.58 L113.67,400.58 L113.67,394.90 L114.17,394.90 L114.17,390.09 L114.67,390.09 L114.67,383.21 L115.17,383.21 L115.17,377.68 L115.67,377.68 L115.67,370.03 L116.17,370.03 L116.17,366.78 L116.67,366.78 L116.67,356.87 L117.17,356.87 L117.17,344.59 L117.67,344.59 L117.67,336.30 L118.17,336.30 L118.17,332.40 L118.67,332.40 L118.67,313.25 L119.17,313.25 L119.17,305.37 L119.67,305.37 L119.67,294.60 L120.17,294.60 L120.17,292.55 L120.67,292.55 L120.67,299.31 L121.17,299.31 L121.17,304.76 L121.67,304.76 L121.67,311.24 L122.17,311.24 L122.17,324.69 L122.67,324.69 L122.67,338.49 L123.17,338.49 L123.17,340.36 L123.67,340.36 L123.67,355.65 L124.17,355.65 L124.17,363.46 L124.67,363.46 L124.67,371.33 L125.17,371.33 L125.17,376.68 L125.67,376.68 L125.67,382.51 L126.17,382.51 L126.17,384.88 L126.67,384.88 L126.67,387.58 L127.17,387.58 L127.17,388.68 L127.67,388.68 L127.67,388.84 L128.17,388.84 L128.17,379.50 L128.67,379.50 L128.67,374.67 L129.17,374.67 L129.17,370.50 L129.67,370.50 L129.67,373.13 L130.17,373.13 L130.17,372.46 L130.67,372.46 L130.67,367.96 L131.17,367.96 L131.17,362.23 L131.67,362.23 L131.67,358.10 L132.17,358.10 L132.17,354.53 L132.67,354.53 L132.67,356.23 L133.17,356.23 L133.17,359.93 L133.67,359.93 L133.67,366.66 L134.17,366.66 L134.17,370.63 L134.67,370.63 L134.67,379.43 L135.17,379.43 L135.17,383.31 L135.67,383.31 L135.67,385.53 L136.17,385.53 L136.17,387.83 L136.67,387.83 L136.67,397.37 L137.17,397.37 L137.17,395.37 L137.67,395.37 L137.67,398.12 L138.17,398.12 L138.17,399.28 L138.67,399.28 L138.67,403.10 L139.17,403.10 L139.17,404.63 L139.67,404.63 L139.67,405.71 L140.17,405.71 L140.17,405.24 L140.67,405.24 L140.67,407.51 L141.17,407.51 L141.17,406.83 L141.67,406.83 L141.67,408.34 L142.17,408.34 L142.17,408.91 L142.67,408.91 L142.67,410.51 L143.17,410.51 L143.17,410.39 L143.67,410.39 L143.67,411.05 L144.17,411.05 L144.17,412.09 L144.67,412.09 L144.67,412.59 L145.17,412.59 L145.17,413.84 L145.67,413.84 L145.67,414.07 L146.17,414.07 L146.17,414.74 L146.67,414.74 L146.67,414.80 L147.17,414.80 L147.17,415.12 L147.67,415.12 L147.67,415.54 L148.17,415.54 L148.17,415.30 L148.67,415.30 L148.67,415.80 L149.12,415.80 L149.12,416.30 Z" fill="#37608f" />
<line x1="42.8" y1="415.8" x2="166.8" y2="415.8" stroke="#8fa9c9" stroke-width="0.8"/>
<path d="M42.8,292.2 L166.8,292.2 L166.8,416.3 L42.8,416.3" fill="none" stroke="#c4c4c4" stroke-width="0.9"/>
<line x1="42.8" y1="292.59999999999997" x2="42.8" y2="416.3" stroke="#555" stroke-width="1.7"/>
<line x1="37.599999999999994" y1="416.30" x2="42.8" y2="416.30" stroke="#bdbdbd" stroke-width="0.8"/>
<text x="37.40" y="418.20" font-family="&quot;Liberation Sans&quot;, sans-serif" font-size="5.4" fill="#555" text-anchor="end" >0</text>
<line x1="40.4" y1="410.10" x2="42.8" y2="410.10" stroke="#d8d8d8" stroke-width="0.6"/>
<line x1="40.4" y1="403.89" x2="42.8" y2="403.89" stroke="#d8d8d8" stroke-width="0.6"/>
<line x1="40.4" y1="397.69" x2="42.8" y2="397.69" stroke="#d8d8d8" stroke-width="0.6"/>
<line x1="40.4" y1="391.48" x2="42.8" y2="391.48" stroke="#d8d8d8" stroke-width="0.6"/>
<line x1="37.599999999999994" y1="385.27" x2="42.8" y2="385.27" stroke="#bdbdbd" stroke-width="0.8"/>
<text x="37.40" y="387.17" font-family="&quot;Liberation Sans&quot;, sans-serif" font-size="5.4" fill="#555" text-anchor="end" >25</text>
<line x1="40.4" y1="379.07" x2="42.8" y2="379.07" stroke="#d8d8d8" stroke-width="0.6"/>
<line x1="40.4" y1="372.87" x2="42.8" y2="372.87" stroke="#d8d8d8" stroke-width="0.6"/>
<line x1="40.4" y1="366.66" x2="42.8" y2="366.66" stroke="#d8d8d8" stroke-width="0.6"/>
<line x1="40.4" y1="360.45" x2="42.8" y2="360.45" stroke="#d8d8d8" stroke-width="0.6"/>
<line x1="37.599999999999994" y1="354.25" x2="42.8" y2="354.25" stroke="#bdbdbd" stroke-width="0.8"/>
<text x="37.40" y="356.15" font-family="&quot;Liberation Sans&quot;, sans-serif" font-size="5.4" fill="#555" text-anchor="end" >50</text>
<line x1="40.4" y1="348.05" x2="42.8" y2="348.05" stroke="#d8d8d8" stroke-width="0.6"/>
<line x1="40.4" y1="341.84" x2="42.8" y2="341.84" stroke="#d8d8d8" stroke-width="0.6"/>
<line x1="40.4" y1="335.63" x2="42.8" y2="335.63" stroke="#d8d8d8" stroke-width="0.6"/>
<line x1="40.4" y1="329.43" x2="42.8" y2="329.43" stroke="#d8d8d8" stroke-width="0.6"/>
<line x1="37.599999999999994" y1="323.23" x2="42.8" y2="323.23" stroke="#bdbdbd" stroke-width="0.8"/>
<text x="37.40" y="325.12" font-family="&quot;Liberation Sans&quot;, sans-serif" font-size="5.4" fill="#555" text-anchor="end" >75</text>
<line x1="40.4" y1="317.02" x2="42.8" y2="317.02" stroke="#d8d8d8" stroke-width="0.6"/>
<line x1="40.4" y1="310.81" x2="42.8" y2="310.81" stroke="#d8d8d8" stroke-width="0.6"/>
<line x1="40.4" y1="304.61" x2="42.8" y2="304.61" stroke="#d8d8d8" stroke-width="0.6"/>
<line x1="40.4" y1="298.40" x2="42.8" y2="298.40" stroke="#d8d8d8" stroke-width="0.6"/>
<line x1="37.599999999999994" y1="292.20" x2="42.8" y2="292.20" stroke="#bdbdbd" stroke-width="0.8"/>
<text x="37.40" y="294.10" font-family="&quot;Liberation Sans&quot;, sans-serif" font-size="5.4" fill="#555" text-anchor="end" >100</text>
<line x1="42.80" y1="416.3" x2="42.80" y2="419.5" stroke="#bdbdbd" stroke-width="0.7"/>
<line x1="49.02" y1="416.3" x2="49.02" y2="418.1" stroke="#d0d0d0" stroke-width="0.5"/>
<line x1="52.66" y1="416.3" x2="52.66" y2="418.1" stroke="#d0d0d0" stroke-width="0.5"/>
<line x1="55.24" y1="416.3" x2="55.24" y2="418.1" stroke="#d0d0d0" stroke-width="0.5"/>
<line x1="57.25" y1="416.3" x2="57.25" y2="418.1" stroke="#d0d0d0" stroke-width="0.5"/>
<line x1="58.88" y1="416.3" x2="58.88" y2="418.1" stroke="#d0d0d0" stroke-width="0.5"/>
<line x1="60.27" y1="416.3" x2="60.27" y2="418.1" stroke="#d0d0d0" stroke-width="0.5"/>
<line x1="61.46" y1="416.3" x2="61.46" y2="418.1" stroke="#d0d0d0" stroke-width="0.5"/>
<line x1="62.52" y1="416.3" x2="62.52" y2="418.1" stroke="#d0d0d0" stroke-width="0.5"/>
<text x="37.40" y="425.60" font-family="&quot;Liberation Sans&quot;, sans-serif" font-size="5.4" fill="#555" text-anchor="start" textLength="6.0" lengthAdjust="spacingAndGlyphs">10<tspan dy="-1.8" font-size="3.2">0</tspan></text>
<line x1="63.47" y1="416.3" x2="63.47" y2="419.5" stroke="#bdbdbd" stroke-width="0.7"/>
<line x1="69.69" y1="416.3" x2="69.69" y2="418.1" stroke="#d0d0d0" stroke-width="0.5"/>
<line x1="73.33" y1="416.3" x2="73.33" y2="418.1" stroke="#d0d0d0" stroke-width="0.5"/>
<line x1="75.91" y1="416.3" x2="75.91" y2="418.1" stroke="#d0d0d0" stroke-width="0.5"/>
<line x1="77.91" y1="416.3" x2="77.91" y2="418.1" stroke="#d0d0d0" stroke-width="0.5"/>
<line x1="79.55" y1="416.3" x2="79.55" y2="418.1" stroke="#d0d0d0" stroke-width="0.5"/>
<line x1="80.93" y1="416.3" x2="80.93" y2="418.1" stroke="#d0d0d0" stroke-width="0.5"/>
<line x1="82.13" y1="416.3" x2="82.13" y2="418.1" stroke="#d0d0d0" stroke-width="0.5"/>
<line x1="83.19" y1="416.3" x2="83.19" y2="418.1" stroke="#d0d0d0" stroke-width="0.5"/>
<text x="58.07" y="425.60" font-family="&quot;Liberation Sans&quot;, sans-serif" font-size="5.4" fill="#555" text-anchor="start" textLength="6.0" lengthAdjust="spacingAndGlyphs">10<tspan dy="-1.8" font-size="3.2">1</tspan></text>
<line x1="84.13" y1="416.3" x2="84.13" y2="419.5" stroke="#bdbdbd" stroke-width="0.7"/>
<line x1="90.35" y1="416.3" x2="90.35" y2="418.1" stroke="#d0d0d0" stroke-width="0.5"/>
<line x1="93.99" y1="416.3" x2="93.99" y2="418.1" stroke="#d0d0d0" stroke-width="0.5"/>
<line x1="96.58" y1="416.3" x2="96.58" y2="418.1" stroke="#d0d0d0" stroke-width="0.5"/>
<line x1="98.58" y1="416.3" x2="98.58" y2="418.1" stroke="#d0d0d0" stroke-width="0.5"/>
<line x1="100.22" y1="416.3" x2="100.22" y2="418.1" stroke="#d0d0d0" stroke-width="0.5"/>
<line x1="101.60" y1="416.3" x2="101.60" y2="418.1" stroke="#d0d0d0" stroke-width="0.5"/>
<line x1="102.80" y1="416.3" x2="102.80" y2="418.1" stroke="#d0d0d0" stroke-width="0.5"/>
<line x1="103.85" y1="416.3" x2="103.85" y2="418.1" stroke="#d0d0d0" stroke-width="0.5"/>
<text x="78.73" y="425.60" font-family="&quot;Liberation Sans&quot;, sans-serif" font-size="5.4" fill="#555" text-anchor="start" textLength="6.0" lengthAdjust="spacingAndGlyphs">10<tspan dy="-1.8" font-size="3.2">2</tspan></text>
<line x1="104.80" y1="416.3" x2="104.80" y2="419.5" stroke="#bdbdbd" stroke-width="0.7"/>
<line x1="111.02" y1="416.3" x2="111.02" y2="418.1" stroke="#d0d0d0" stroke-width="0.5"/>
<line x1="114.66" y1="416.3" x2="114.66" y2="418.1" stroke="#d0d0d0" stroke-width="0.5"/>
<line x1="117.24" y1="416.3" x2="117.24" y2="418.1" stroke="#d0d0d0" stroke-width="0.5"/>
<line x1="119.25" y1="416.3" x2="119.25" y2="418.1" stroke="#d0d0d0" stroke-width="0.5"/>
<line x1="120.88" y1="416.3" x2="120.88" y2="418.1" stroke="#d0d0d0" stroke-width="0.5"/>
<line x1="122.27" y1="416.3" x2="122.27" y2="418.1" stroke="#d0d0d0" stroke-width="0.5"/>
<line x1="123.46" y1="416.3" x2="123.46" y2="418.1" stroke="#d0d0d0" stroke-width="0.5"/>
<line x1="124.52" y1="416.3" x2="124.52" y2="418.1" stroke="#d0d0d0" stroke-width="0.5"/>
<text x="99.40" y="425.60" font-family="&quot;Liberation Sans&quot;, sans-serif" font-size="5.4" fill="#555" text-anchor="start" textLength="6.0" lengthAdjust="spacingAndGlyphs">10<tspan dy="-1.8" font-size="3.2">3</tspan></text>
<line x1="125.47" y1="416.3" x2="125.47" y2="419.5" stroke="#bdbdbd" stroke-width="0.7"/>
<line x1="131.69" y1="416.3" x2="131.69" y2="418.1" stroke="#d0d0d0" stroke-width="0.5"/>
<line x1="135.33" y1="416.3" x2="135.33" y2="418.1" stroke="#d0d0d0" stroke-width="0.5"/>
<line x1="137.91" y1="416.3" x2="137.91" y2="418.1" stroke="#d0d0d0" stroke-width="0.5"/>
<line x1="139.91" y1="416.3" x2="139.91" y2="418.1" stroke="#d0d0d0" stroke-width="0.5"/>
<line x1="141.55" y1="416.3" x2="141.55" y2="418.1" stroke="#d0d0d0" stroke-width="0.5"/>
<line x1="142.93" y1="416.3" x2="142.93" y2="418.1" stroke="#d0d0d0" stroke-width="0.5"/>
<line x1="144.13" y1="416.3" x2="144.13" y2="418.1" stroke="#d0d0d0" stroke-width="0.5"/>
<line x1="145.19" y1="416.3" x2="145.19" y2="418.1" stroke="#d0d0d0" stroke-width="0.5"/>
<text x="120.07" y="425.60" font-family="&quot;Liberation Sans&quot;, sans-serif" font-size="5.4" fill="#555" text-anchor="start" textLength="6.0" lengthAdjust="spacingAndGlyphs">10<tspan dy="-1.8" font-size="3.2">4</tspan></text>
<line x1="146.13" y1="416.3" x2="146.13" y2="419.5" stroke="#bdbdbd" stroke-width="0.7"/>
<line x1="152.35" y1="416.3" x2="152.35" y2="418.1" stroke="#d0d0d0" stroke-width="0.5"/>
<line x1="155.99" y1="416.3" x2="155.99" y2="418.1" stroke="#d0d0d0" stroke-width="0.5"/>
<line x1="158.58" y1="416.3" x2="158.58" y2="418.1" stroke="#d0d0d0" stroke-width="0.5"/>
<line x1="160.58" y1="416.3" x2="160.58" y2="418.1" stroke="#d0d0d0" stroke-width="0.5"/>
<line x1="162.22" y1="416.3" x2="162.22" y2="418.1" stroke="#d0d0d0" stroke-width="0.5"/>
<line x1="163.60" y1="416.3" x2="163.60" y2="418.1" stroke="#d0d0d0" stroke-width="0.5"/>
<line x1="164.80" y1="416.3" x2="164.80" y2="418.1" stroke="#d0d0d0" stroke-width="0.5"/>
<line x1="165.85" y1="416.3" x2="165.85" y2="418.1" stroke="#d0d0d0" stroke-width="0.5"/>
<text x="140.73" y="425.60" font-family="&quot;Liberation Sans&quot;, sans-serif" font-size="5.4" fill="#555" text-anchor="start" textLength="6.0" lengthAdjust="spacingAndGlyphs">10<tspan dy="-1.8" font-size="3.2">5</tspan></text>
<line x1="166.80" y1="416.3" x2="166.80" y2="419.5" stroke="#bdbdbd" stroke-width="0.7"/>
<text x="161.40" y="425.60" font-family="&quot;Liberation Sans&quot;, sans-serif" font-size="5.4" fill="#555" text-anchor="start" textLength="6.0" lengthAdjust="spacingAndGlyphs">10<tspan dy="-1.8" font-size="3.2">6</tspan></text>
<text transform="translate(18.50,376.60) rotate(-90)" x="-0.54" y="0" font-family="&quot;Liberation Sans&quot;, sans-serif" font-size="6.8" fill="#333" textLength="45.31" lengthAdjust="spacingAndGlyphs" >Percent of Max</text>
<text x="67.30" y="282.50" font-family="&quot;Liberation Serif&quot;, serif" font-size="16.3" fill="#000" font-weight="bold" stroke="#000" stroke-width="0.3" textLength="31.05" lengthAdjust="spacingAndGlyphs" >CD3</text>
<path d="M98.20,274.75 H104.10 M101.15,271.80 V277.70" stroke="#000" stroke-width="1.65" fill="none"/>
<text x="107.10" y="282.50" font-family="&quot;Liberation Serif&quot;, serif" font-size="16.3" fill="#000" font-weight="bold" stroke="#000" stroke-width="0.3" textLength="31.26" lengthAdjust="spacingAndGlyphs" >CD8</text>
<path d="M138.05,274.75 H143.95 M141.00,271.80 V277.70" stroke="#000" stroke-width="1.65" fill="none"/>
<rect x="2.6" y="442.05" width="14.9" height="5.7" fill="#000"/>
<text x="25.78" y="451.90" font-family="&quot;Liberation Serif&quot;, serif" font-size="13.3" fill="#000" textLength="64.07" lengthAdjust="spacingAndGlyphs" >Ctl- (RPMI)</text>
<rect x="105.7" y="442.50" width="13.6" height="4.8" fill="#4f7fbd" stroke="#1e2a3a" stroke-width="0.9"/>
<text x="127.93" y="451.90" font-family="&quot;Liberation Serif&quot;, serif" font-size="13.3" fill="#000" textLength="26.69" lengthAdjust="spacingAndGlyphs" >NPL/</text>
<text x="154.02" y="451.90" font-family="&quot;Liberation Serif&quot;, serif" font-size="13.3" fill="#000" font-style="italic" textLength="44.55" lengthAdjust="spacingAndGlyphs" >T.gondii</text>
<text x="198.01" y="451.90" font-family="&quot;Liberation Serif&quot;, serif" font-size="13.3" fill="#000" textLength="35.06" lengthAdjust="spacingAndGlyphs" >-FITC</text>
<line x1="306.2" y1="283.90" x2="306.2" y2="421.30" stroke="#1c1c1c" stroke-width="1.7"/>
<line x1="302.2" y1="420.5" x2="433.3" y2="420.5" stroke="#1c1c1c" stroke-width="1.7"/>
<line x1="302.2" y1="284.50" x2="306.2" y2="284.50" stroke="#1c1c1c" stroke-width="1.3"/>
<text x="277.79" y="289.50" font-family="&quot;Liberation Serif&quot;, serif" font-size="14.6" fill="#111" font-weight="bold" stroke="#111" stroke-width="0.3" textLength="23.43" lengthAdjust="spacingAndGlyphs" >100</text>
<line x1="302.2" y1="318.50" x2="306.2" y2="318.50" stroke="#1c1c1c" stroke-width="1.3"/>
<text x="285.52" y="323.50" font-family="&quot;Liberation Serif&quot;, serif" font-size="14.6" fill="#111" font-weight="bold" stroke="#111" stroke-width="0.3" textLength="15.62" lengthAdjust="spacingAndGlyphs" >75</text>
<line x1="302.2" y1="352.50" x2="306.2" y2="352.50" stroke="#1c1c1c" stroke-width="1.3"/>
<text x="285.60" y="357.50" font-family="&quot;Liberation Serif&quot;, serif" font-size="14.6" fill="#111" font-weight="bold" stroke="#111" stroke-width="0.3" textLength="15.62" lengthAdjust="spacingAndGlyphs" >50</text>
<line x1="302.2" y1="386.50" x2="306.2" y2="386.50" stroke="#1c1c1c" stroke-width="1.3"/>
<text x="285.52" y="391.50" font-family="&quot;Liberation Serif&quot;, serif" font-size="14.6" fill="#111" font-weight="bold" stroke="#111" stroke-width="0.3" textLength="15.62" lengthAdjust="spacingAndGlyphs" >25</text>
<line x1="302.2" y1="420.50" x2="306.2" y2="420.50" stroke="#1c1c1c" stroke-width="1.3"/>
<text x="293.41" y="425.50" font-family="&quot;Liberation Serif&quot;, serif" font-size="14.6" fill="#111" font-weight="bold" stroke="#111" stroke-width="0.3" textLength="7.81" lengthAdjust="spacingAndGlyphs" >0</text>
<line x1="342.5" y1="420.5" x2="342.5" y2="424.7" stroke="#1c1c1c" stroke-width="1.3"/>
<line x1="397.1" y1="420.5" x2="397.1" y2="424.7" stroke="#1c1c1c" stroke-width="1.3"/>
<text x="321.61" y="438.80" font-family="&quot;Liberation Serif&quot;, serif" font-size="15.0" fill="#111" font-weight="bold" stroke="#111" stroke-width="0.3" textLength="33.49" lengthAdjust="spacingAndGlyphs" >Toxo</text>
<rect x="358.75" y="434.65" width="4.4" height="1.6" fill="#111"/>
<text x="372.86" y="438.80" font-family="&quot;Liberation Serif&quot;, serif" font-size="15.0" fill="#111" font-weight="bold" stroke="#111" stroke-width="0.3" textLength="33.18" lengthAdjust="spacingAndGlyphs" >Toxo</text>
<path d="M409.95,433.90 H418.05 M414.00,429.90 V437.80" stroke="#111" stroke-width="1.35" fill="none"/>
<line x1="324.3" y1="311.1" x2="360.5" y2="311.1" stroke="#1c1c1c" stroke-width="1.5"/>
<line x1="382.9" y1="345.4" x2="411" y2="345.4" stroke="#1c1c1c" stroke-width="1.5"/>
<circle cx="328.4" cy="287.7" r="4.25" fill="#c8def8" stroke="#1c1c1c" stroke-width="0.95"/>
<circle cx="342.6" cy="293.7" r="4.25" fill="#c8def8" stroke="#1c1c1c" stroke-width="0.95"/>
<circle cx="356.4" cy="289.6" r="4.25" fill="#c8def8" stroke="#1c1c1c" stroke-width="0.95"/>
<circle cx="328.4" cy="330.5" r="4.25" fill="#c8def8" stroke="#1c1c1c" stroke-width="0.95"/>
<circle cx="342.6" cy="328.3" r="4.25" fill="#c8def8" stroke="#1c1c1c" stroke-width="0.95"/>
<circle cx="356.4" cy="329.1" r="4.25" fill="#c8def8" stroke="#1c1c1c" stroke-width="0.95"/>
<circle cx="396.9" cy="329.8" r="4.25" fill="#fddfc0" stroke="#1c1c1c" stroke-width="0.95"/>
<circle cx="397.1" cy="339.9" r="4.25" fill="#fddfc0" stroke="#1c1c1c" stroke-width="0.95"/>
<circle cx="382.9" cy="345.4" r="4.25" fill="#fddfc0" stroke="#1c1c1c" stroke-width="0.95"/>
<circle cx="411" cy="345.4" r="4.25" fill="#fddfc0" stroke="#1c1c1c" stroke-width="0.95"/>
<circle cx="397.1" cy="351.6" r="4.25" fill="#fddfc0" stroke="#1c1c1c" stroke-width="0.95"/>
<circle cx="397.1" cy="389.1" r="4.25" fill="#fddfc0" stroke="#1c1c1c" stroke-width="0.95"/>
<path d="M342.3,271.4 V269.5 H397.2 V271.4" fill="none" stroke="#1c1c1c" stroke-width="1.25"/>
<path d="M366.70,257.55 L367.29,259.54 L369.36,259.48 L367.65,260.66 L368.35,262.62 L366.70,261.35 L365.05,262.62 L365.75,260.66 L364.04,259.48 L366.11,259.54 Z" fill="#1a1a1a" stroke="#1a1a1a" stroke-width="0.35" stroke-linejoin="round"/>
<path d="M373.20,257.55 L373.79,259.54 L375.86,259.48 L374.15,260.66 L374.85,262.62 L373.20,261.35 L371.55,262.62 L372.25,260.66 L370.54,259.48 L372.61,259.54 Z" fill="#1a1a1a" stroke="#1a1a1a" stroke-width="0.35" stroke-linejoin="round"/>
<text transform="translate(263.50,401.90) rotate(-90)" x="-1.55" y="0" font-family="&quot;Liberation Serif&quot;, serif" font-size="15.0" fill="#111" font-weight="bold" stroke="#111" stroke-width="0.3" textLength="103.92" lengthAdjust="spacingAndGlyphs" >% positive CD8</text>
<path d="M248.95,296.30 H255.45 M252.20,293.05 V299.55" stroke="#111" stroke-width="0.95" fill="none"/>
<line x1="557.5" y1="283.90" x2="557.5" y2="421.30" stroke="#1c1c1c" stroke-width="1.7"/>
<line x1="553.5" y1="420.5" x2="685" y2="420.5" stroke="#1c1c1c" stroke-width="1.7"/>
<line x1="553.5" y1="284.50" x2="557.5" y2="284.50" stroke="#1c1c1c" stroke-width="1.3"/>
<text x="513.47" y="289.50" font-family="&quot;Liberation Serif&quot;, serif" font-size="14.6" fill="#111" font-weight="bold" stroke="#111" stroke-width="0.3" textLength="39.05" lengthAdjust="spacingAndGlyphs" >30000</text>
<line x1="553.5" y1="329.83" x2="557.5" y2="329.83" stroke="#1c1c1c" stroke-width="1.3"/>
<text x="513.47" y="334.83" font-family="&quot;Liberation Serif&quot;, serif" font-size="14.6" fill="#111" font-weight="bold" stroke="#111" stroke-width="0.3" textLength="39.06" lengthAdjust="spacingAndGlyphs" >20000</text>
<line x1="553.5" y1="375.17" x2="557.5" y2="375.17" stroke="#1c1c1c" stroke-width="1.3"/>
<text x="513.47" y="380.17" font-family="&quot;Liberation Serif&quot;, serif" font-size="14.6" fill="#111" font-weight="bold" stroke="#111" stroke-width="0.3" textLength="39.05" lengthAdjust="spacingAndGlyphs" >10000</text>
<line x1="553.5" y1="420.50" x2="557.5" y2="420.50" stroke="#1c1c1c" stroke-width="1.3"/>
<text x="544.71" y="425.50" font-family="&quot;Liberation Serif&quot;, serif" font-size="14.6" fill="#111" font-weight="bold" stroke="#111" stroke-width="0.3" textLength="7.81" lengthAdjust="spacingAndGlyphs" >0</text>
<line x1="593.8" y1="420.5" x2="593.8" y2="424.7" stroke="#1c1c1c" stroke-width="1.3"/>
<line x1="648.0" y1="420.5" x2="648.0" y2="424.7" stroke="#1c1c1c" stroke-width="1.3"/>
<text x="572.91" y="438.80" font-family="&quot;Liberation Serif&quot;, serif" font-size="15.0" fill="#111" font-weight="bold" stroke="#111" stroke-width="0.3" textLength="33.49" lengthAdjust="spacingAndGlyphs" >Toxo</text>
<rect x="610.05" y="434.65" width="4.4" height="1.6" fill="#111"/>
<text x="623.76" y="438.80" font-family="&quot;Liberation Serif&quot;, serif" font-size="15.0" fill="#111" font-weight="bold" stroke="#111" stroke-width="0.3" textLength="33.18" lengthAdjust="spacingAndGlyphs" >Toxo</text>
<path d="M660.85,433.90 H668.95 M664.90,429.90 V437.80" stroke="#111" stroke-width="1.35" fill="none"/>
<line x1="575.6" y1="367.6" x2="612.1" y2="367.6" stroke="#1c1c1c" stroke-width="1.5"/>
<line x1="630.8" y1="385.3" x2="666.3" y2="385.3" stroke="#1c1c1c" stroke-width="1.5"/>
<circle cx="593.8" cy="330.8" r="4.25" fill="#c8def8" stroke="#1c1c1c" stroke-width="0.95"/>
<circle cx="585.5" cy="362.3" r="4.25" fill="#c8def8" stroke="#1c1c1c" stroke-width="0.95"/>
<circle cx="601.8" cy="363.3" r="4.25" fill="#c8def8" stroke="#1c1c1c" stroke-width="0.95"/>
<circle cx="585.5" cy="371.1" r="4.25" fill="#c8def8" stroke="#1c1c1c" stroke-width="0.95"/>
<circle cx="585.5" cy="382.8" r="4.25" fill="#c8def8" stroke="#1c1c1c" stroke-width="0.95"/>
<circle cx="601.8" cy="379.4" r="4.25" fill="#c8def8" stroke="#1c1c1c" stroke-width="0.95"/>
<circle cx="648" cy="350.2" r="4.25" fill="#fddfc0" stroke="#1c1c1c" stroke-width="0.95"/>
<circle cx="634.4" cy="384.7" r="4.25" fill="#fddfc0" stroke="#1c1c1c" stroke-width="0.95"/>
<circle cx="643.6" cy="386.3" r="4.25" fill="#fddfc0" stroke="#1c1c1c" stroke-width="0.95"/>
<circle cx="652.5" cy="388.9" r="4.25" fill="#fddfc0" stroke="#1c1c1c" stroke-width="0.95"/>
<circle cx="661.9" cy="384.9" r="4.25" fill="#fddfc0" stroke="#1c1c1c" stroke-width="0.95"/>
<circle cx="648" cy="403.5" r="4.25" fill="#fddfc0" stroke="#1c1c1c" stroke-width="0.95"/>
<path d="M593.8,277.4 V275.5 H648 V277.4" fill="none" stroke="#1c1c1c" stroke-width="1.25"/>
<path d="M622.30,264.55 L622.89,266.54 L624.96,266.48 L623.25,267.66 L623.95,269.62 L622.30,268.35 L620.65,269.62 L621.35,267.66 L619.64,266.48 L621.71,266.54 Z" fill="#1a1a1a" stroke="#1a1a1a" stroke-width="0.35" stroke-linejoin="round"/>
<text transform="translate(477.50,397.60) rotate(-90)" x="-0.15" y="0" font-family="&quot;Liberation Serif&quot;, serif" font-size="15.0" fill="#111" font-weight="bold" stroke="#111" stroke-width="0.3" textLength="100.23" lengthAdjust="spacingAndGlyphs" >Antigen uptake</text>
<text transform="translate(498.60,382.25) rotate(-90)" x="-0.76" y="0" font-family="&quot;Liberation Serif&quot;, serif" font-size="15.0" fill="#111" font-weight="bold" stroke="#111" stroke-width="0.3" textLength="29.69" lengthAdjust="spacingAndGlyphs" >CD8</text>
<path d="M484.85,349.65 H491.35 M488.10,346.40 V352.90" stroke="#111" stroke-width="0.95" fill="none"/>
<text transform="translate(498.60,341.35) rotate(-90)" x="-0.23" y="0" font-family="&quot;Liberation Serif&quot;, serif" font-size="15.0" fill="#111" font-weight="bold" stroke="#111" stroke-width="0.3" textLength="29.34" lengthAdjust="spacingAndGlyphs" >MFI</text>
<text x="-0.70" y="507.90" font-family="&quot;Liberation Serif&quot;, serif" font-size="23.4" fill="#000" stroke="#000" stroke-width="0.3">E</text>
<text x="223.50" y="507.90" font-family="&quot;Liberation Serif&quot;, serif" font-size="23.4" fill="#000" stroke="#000" stroke-width="0.3">F</text>
<path d="M55.18,653.30 L55.18,653.20 L55.68,653.20 L55.68,652.30 L56.18,652.30 L56.18,652.51 L56.68,652.51 L56.68,652.08 L57.18,652.08 L57.18,650.77 L57.68,650.77 L57.68,652.07 L58.18,652.07 L58.18,652.07 L58.68,652.07 L58.68,650.88 L59.18,650.88 L59.18,651.63 L59.68,651.63 L59.68,652.59 L60.18,652.59 L60.18,651.86 L60.68,651.86 L60.68,652.00 L61.18,652.00 L61.18,651.72 L61.68,651.72 L61.68,652.31 L62.18,652.31 L62.18,652.07 L62.68,652.07 L62.68,651.53 L63.18,651.53 L63.18,649.46 L63.68,649.46 L63.68,651.13 L64.18,651.13 L64.18,650.28 L64.68,650.28 L64.68,650.75 L65.18,650.75 L65.18,649.79 L65.68,649.79 L65.68,650.18 L66.18,650.18 L66.18,650.92 L66.68,650.92 L66.68,650.80 L67.18,650.80 L67.18,649.58 L67.68,649.58 L67.68,651.33 L68.18,651.33 L68.18,649.45 L68.68,649.45 L68.68,649.20 L69.18,649.20 L69.18,648.91 L69.68,648.91 L69.68,649.51 L70.18,649.51 L70.18,649.08 L70.68,649.08 L70.68,648.51 L71.18,648.51 L71.18,651.16 L71.68,651.16 L71.68,650.34 L72.18,650.34 L72.18,648.32 L72.68,648.32 L72.68,647.70 L73.18,647.70 L73.18,648.45 L73.68,648.45 L73.68,646.67 L74.18,646.67 L74.18,650.21 L74.68,650.21 L74.68,649.00 L75.18,649.00 L75.18,645.54 L75.68,645.54 L75.68,643.64 L76.18,643.64 L76.18,647.16 L76.68,647.16 L76.68,644.56 L77.18,644.56 L77.18,648.62 L77.68,648.62 L77.68,651.00 L78.18,651.00 L78.18,646.41 L78.68,646.41 L78.68,644.40 L79.18,644.40 L79.18,643.75 L79.68,643.75 L79.68,645.12 L80.18,645.12 L80.18,646.33 L80.68,646.33 L80.68,645.48 L81.18,645.48 L81.18,646.29 L81.68,646.29 L81.68,642.81 L82.18,642.81 L82.18,641.79 L82.68,641.79 L82.68,641.08 L83.18,641.08 L83.18,644.20 L83.68,644.20 L83.68,639.51 L84.18,639.51 L84.18,641.05 L84.68,641.05 L84.68,636.73 L85.18,636.73 L85.18,635.61 L85.68,635.61 L85.68,634.18 L86.18,634.18 L86.18,636.63 L86.68,636.63 L86.68,637.15 L87.18,637.15 L87.18,637.66 L87.68,637.66 L87.68,634.55 L88.18,634.55 L88.18,635.37 L88.68,635.37 L88.68,630.83 L89.18,630.83 L89.18,628.20 L89.68,628.20 L89.68,623.84 L90.18,623.84 L90.18,628.79 L90.68,628.79 L90.68,616.74 L91.18,616.74 L91.18,618.04 L91.68,618.04 L91.68,617.60 L92.18,617.60 L92.18,611.02 L92.68,611.02 L92.68,614.62 L93.18,614.62 L93.18,614.56 L93.68,614.56 L93.68,612.52 L94.18,612.52 L94.18,601.04 L94.68,601.04 L94.68,594.44 L95.18,594.44 L95.18,589.04 L95.68,589.04 L95.68,595.83 L96.18,595.83 L96.18,578.71 L96.68,578.71 L96.68,577.41 L97.18,577.41 L97.18,564.95 L97.68,564.95 L97.68,565.86 L98.18,565.86 L98.18,572.52 L98.68,572.52 L98.68,549.29 L99.18,549.29 L99.18,545.89 L99.68,545.89 L99.68,537.29 L100.18,537.29 L100.18,535.21 L100.68,535.21 L100.68,538.70 L101.18,538.70 L101.18,543.99 L101.68,543.99 L101.68,549.69 L102.18,549.69 L102.18,551.31 L102.68,551.31 L102.68,557.77 L103.18,557.77 L103.18,565.72 L103.68,565.72 L103.68,578.83 L104.18,578.83 L104.18,585.72 L104.68,585.72 L104.68,591.59 L105.18,591.59 L105.18,598.38 L105.68,598.38 L105.68,608.58 L106.18,608.58 L106.18,616.58 L106.68,616.58 L106.68,629.17 L107.18,629.17 L107.18,629.67 L107.68,629.67 L107.68,640.98 L108.18,640.98 L108.18,645.59 L108.68,645.59 L108.68,643.83 L109.18,643.83 L109.18,650.56 L109.68,650.56 L109.68,650.36 L110.18,650.36 L110.18,652.30 L110.68,652.30 L110.68,651.35 L111.18,651.35 L111.18,652.10 L111.68,652.10 L111.68,652.73 L112.12,652.73 L112.12,653.30 Z" fill="#000" />
<path d="M110.22,653.30 L110.22,653.12 L110.72,653.12 L110.72,651.97 L111.22,651.97 L111.22,650.73 L111.72,650.73 L111.72,650.16 L112.22,650.16 L112.22,649.38 L112.72,649.38 L112.72,648.57 L113.22,648.57 L113.22,648.23 L113.72,648.23 L113.72,650.84 L114.22,650.84 L114.22,647.02 L114.72,647.02 L114.72,649.93 L115.22,649.93 L115.22,643.35 L115.72,643.35 L115.72,641.29 L116.22,641.29 L116.22,640.83 L116.72,640.83 L116.72,635.99 L117.22,635.99 L117.22,633.83 L117.72,633.83 L117.72,636.57 L118.22,636.57 L118.22,630.60 L118.72,630.60 L118.72,620.95 L119.22,620.95 L119.22,611.89 L119.72,611.89 L119.72,607.99 L120.22,607.99 L120.22,600.88 L120.72,600.88 L120.72,584.02 L121.22,584.02 L121.22,577.13 L121.72,577.13 L121.72,554.58 L122.22,554.58 L122.22,545.52 L122.72,545.52 L122.72,535.21 L123.22,535.21 L123.22,536.39 L123.72,536.39 L123.72,544.23 L124.22,544.23 L124.22,551.04 L124.72,551.04 L124.72,563.27 L125.22,563.27 L125.22,589.70 L125.72,589.70 L125.72,589.49 L126.22,589.49 L126.22,602.63 L126.72,602.63 L126.72,610.98 L127.22,610.98 L127.22,617.51 L127.72,617.51 L127.72,628.71 L128.22,628.71 L128.22,636.24 L128.72,636.24 L128.72,631.83 L129.22,631.83 L129.22,639.19 L129.72,639.19 L129.72,637.20 L130.22,637.20 L130.22,640.83 L130.72,640.83 L130.72,640.75 L131.22,640.75 L131.22,639.82 L131.72,639.82 L131.72,639.30 L132.22,639.30 L132.22,639.04 L132.72,639.04 L132.72,645.49 L133.22,645.49 L133.22,641.52 L133.72,641.52 L133.72,640.96 L134.22,640.96 L134.22,648.05 L134.72,648.05 L134.72,649.90 L135.22,649.90 L135.22,645.75 L135.72,645.75 L135.72,644.58 L136.22,644.58 L136.22,645.08 L136.72,645.08 L136.72,645.11 L137.22,645.11 L137.22,646.33 L137.72,646.33 L137.72,645.77 L138.22,645.77 L138.22,646.67 L138.72,646.67 L138.72,647.20 L139.22,647.20 L139.22,648.99 L139.72,648.99 L139.72,651.09 L140.22,651.09 L140.22,650.26 L140.72,650.26 L140.72,648.60 L141.22,648.60 L141.22,648.60 L141.72,648.60 L141.72,649.08 L142.22,649.08 L142.22,648.46 L142.72,648.46 L142.72,648.42 L143.22,648.42 L143.22,647.98 L143.72,647.98 L143.72,648.68 L144.22,648.68 L144.22,651.94 L144.72,651.94 L144.72,648.81 L145.22,648.81 L145.22,650.05 L145.72,650.05 L145.72,650.70 L146.22,650.70 L146.22,651.81 L146.72,651.81 L146.72,649.82 L147.22,649.82 L147.22,650.05 L147.72,650.05 L147.72,650.12 L148.22,650.12 L148.22,650.56 L148.72,650.56 L148.72,650.77 L149.22,650.77 L149.22,652.48 L149.72,652.48 L149.72,652.14 L150.22,652.14 L150.22,652.27 L150.72,652.27 L150.72,650.51 L151.22,650.51 L151.22,650.59 L151.72,650.59 L151.72,651.88 L152.22,651.88 L152.22,652.46 L152.72,652.46 L152.72,651.41 L153.22,651.41 L153.22,651.71 L153.72,651.71 L153.72,650.96 L154.22,650.96 L154.22,651.43 L154.72,651.43 L154.72,652.67 L155.22,652.67 L155.22,652.42 L155.72,652.42 L155.72,652.51 L156.22,652.51 L156.22,652.83 L156.72,652.83 L156.72,651.44 L157.22,651.44 L157.22,651.36 L157.72,651.36 L157.72,651.17 L158.22,651.17 L158.22,651.53 L158.72,651.53 L158.72,651.76 L159.22,651.76 L159.22,652.48 L159.72,652.48 L159.72,651.59 L160.22,651.59 L160.22,651.19 L160.72,651.19 L160.72,651.47 L161.22,651.47 L161.22,650.32 L161.72,650.32 L161.72,650.99 L162.22,650.99 L162.22,650.99 L162.72,650.99 L162.72,652.72 L163.22,652.72 L163.22,653.00 L163.36,653.00 L163.36,653.30 Z" fill="#37608f" />
<line x1="45.7" y1="652.8" x2="163.7" y2="652.8" stroke="#8fa9c9" stroke-width="0.8"/>
<path d="M45.7,535.0 L163.7,535.0 L163.7,653.3 L45.7,653.3" fill="none" stroke="#c4c4c4" stroke-width="0.9"/>
<line x1="45.7" y1="535.4" x2="45.7" y2="653.3" stroke="#555" stroke-width="1.7"/>
<line x1="40.5" y1="653.30" x2="45.7" y2="653.30" stroke="#bdbdbd" stroke-width="0.8"/>
<text x="40.30" y="655.20" font-family="&quot;Liberation Sans&quot;, sans-serif" font-size="5.4" fill="#555" text-anchor="end" >0</text>
<line x1="43.300000000000004" y1="647.38" x2="45.7" y2="647.38" stroke="#d8d8d8" stroke-width="0.6"/>
<line x1="43.300000000000004" y1="641.47" x2="45.7" y2="641.47" stroke="#d8d8d8" stroke-width="0.6"/>
<line x1="43.300000000000004" y1="635.55" x2="45.7" y2="635.55" stroke="#d8d8d8" stroke-width="0.6"/>
<line x1="43.300000000000004" y1="629.64" x2="45.7" y2="629.64" stroke="#d8d8d8" stroke-width="0.6"/>
<line x1="40.5" y1="623.72" x2="45.7" y2="623.72" stroke="#bdbdbd" stroke-width="0.8"/>
<text x="40.30" y="625.62" font-family="&quot;Liberation Sans&quot;, sans-serif" font-size="5.4" fill="#555" text-anchor="end" >25</text>
<line x1="43.300000000000004" y1="617.81" x2="45.7" y2="617.81" stroke="#d8d8d8" stroke-width="0.6"/>
<line x1="43.300000000000004" y1="611.89" x2="45.7" y2="611.89" stroke="#d8d8d8" stroke-width="0.6"/>
<line x1="43.300000000000004" y1="605.98" x2="45.7" y2="605.98" stroke="#d8d8d8" stroke-width="0.6"/>
<line x1="43.300000000000004" y1="600.06" x2="45.7" y2="600.06" stroke="#d8d8d8" stroke-width="0.6"/>
<line x1="40.5" y1="594.15" x2="45.7" y2="594.15" stroke="#bdbdbd" stroke-width="0.8"/>
<text x="40.30" y="596.05" font-family="&quot;Liberation Sans&quot;, sans-serif" font-size="5.4" fill="#555" text-anchor="end" >50</text>
<line x1="43.300000000000004" y1="588.24" x2="45.7" y2="588.24" stroke="#d8d8d8" stroke-width="0.6"/>
<line x1="43.300000000000004" y1="582.32" x2="45.7" y2="582.32" stroke="#d8d8d8" stroke-width="0.6"/>
<line x1="43.300000000000004" y1="576.40" x2="45.7" y2="576.40" stroke="#d8d8d8" stroke-width="0.6"/>
<line x1="43.300000000000004" y1="570.49" x2="45.7" y2="570.49" stroke="#d8d8d8" stroke-width="0.6"/>
<line x1="40.5" y1="564.58" x2="45.7" y2="564.58" stroke="#bdbdbd" stroke-width="0.8"/>
<text x="40.30" y="566.48" font-family="&quot;Liberation Sans&quot;, sans-serif" font-size="5.4" fill="#555" text-anchor="end" >75</text>
<line x1="43.300000000000004" y1="558.66" x2="45.7" y2="558.66" stroke="#d8d8d8" stroke-width="0.6"/>
<line x1="43.300000000000004" y1="552.75" x2="45.7" y2="552.75" stroke="#d8d8d8" stroke-width="0.6"/>
<line x1="43.300000000000004" y1="546.83" x2="45.7" y2="546.83" stroke="#d8d8d8" stroke-width="0.6"/>
<line x1="43.300000000000004" y1="540.91" x2="45.7" y2="540.91" stroke="#d8d8d8" stroke-width="0.6"/>
<line x1="40.5" y1="535.00" x2="45.7" y2="535.00" stroke="#bdbdbd" stroke-width="0.8"/>
<text x="40.30" y="536.90" font-family="&quot;Liberation Sans&quot;, sans-serif" font-size="5.4" fill="#555" text-anchor="end" >100</text>
<line x1="45.70" y1="653.3" x2="45.70" y2="656.5" stroke="#bdbdbd" stroke-width="0.7"/>
<line x1="51.62" y1="653.3" x2="51.62" y2="655.0999999999999" stroke="#d0d0d0" stroke-width="0.5"/>
<line x1="55.08" y1="653.3" x2="55.08" y2="655.0999999999999" stroke="#d0d0d0" stroke-width="0.5"/>
<line x1="57.54" y1="653.3" x2="57.54" y2="655.0999999999999" stroke="#d0d0d0" stroke-width="0.5"/>
<line x1="59.45" y1="653.3" x2="59.45" y2="655.0999999999999" stroke="#d0d0d0" stroke-width="0.5"/>
<line x1="61.00" y1="653.3" x2="61.00" y2="655.0999999999999" stroke="#d0d0d0" stroke-width="0.5"/>
<line x1="62.32" y1="653.3" x2="62.32" y2="655.0999999999999" stroke="#d0d0d0" stroke-width="0.5"/>
<line x1="63.46" y1="653.3" x2="63.46" y2="655.0999999999999" stroke="#d0d0d0" stroke-width="0.5"/>
<line x1="64.47" y1="653.3" x2="64.47" y2="655.0999999999999" stroke="#d0d0d0" stroke-width="0.5"/>
<text x="40.30" y="662.60" font-family="&quot;Liberation Sans&quot;, sans-serif" font-size="5.4" fill="#555" text-anchor="start" textLength="6.0" lengthAdjust="spacingAndGlyphs">10<tspan dy="-1.8" font-size="3.2">0</tspan></text>
<line x1="65.37" y1="653.3" x2="65.37" y2="656.5" stroke="#bdbdbd" stroke-width="0.7"/>
<line x1="71.29" y1="653.3" x2="71.29" y2="655.0999999999999" stroke="#d0d0d0" stroke-width="0.5"/>
<line x1="74.75" y1="653.3" x2="74.75" y2="655.0999999999999" stroke="#d0d0d0" stroke-width="0.5"/>
<line x1="77.21" y1="653.3" x2="77.21" y2="655.0999999999999" stroke="#d0d0d0" stroke-width="0.5"/>
<line x1="79.11" y1="653.3" x2="79.11" y2="655.0999999999999" stroke="#d0d0d0" stroke-width="0.5"/>
<line x1="80.67" y1="653.3" x2="80.67" y2="655.0999999999999" stroke="#d0d0d0" stroke-width="0.5"/>
<line x1="81.99" y1="653.3" x2="81.99" y2="655.0999999999999" stroke="#d0d0d0" stroke-width="0.5"/>
<line x1="83.13" y1="653.3" x2="83.13" y2="655.0999999999999" stroke="#d0d0d0" stroke-width="0.5"/>
<line x1="84.13" y1="653.3" x2="84.13" y2="655.0999999999999" stroke="#d0d0d0" stroke-width="0.5"/>
<text x="59.97" y="662.60" font-family="&quot;Liberation Sans&quot;, sans-serif" font-size="5.4" fill="#555" text-anchor="start" textLength="6.0" lengthAdjust="spacingAndGlyphs">10<tspan dy="-1.8" font-size="3.2">1</tspan></text>
<line x1="85.03" y1="653.3" x2="85.03" y2="656.5" stroke="#bdbdbd" stroke-width="0.7"/>
<line x1="90.95" y1="653.3" x2="90.95" y2="655.0999999999999" stroke="#d0d0d0" stroke-width="0.5"/>
<line x1="94.42" y1="653.3" x2="94.42" y2="655.0999999999999" stroke="#d0d0d0" stroke-width="0.5"/>
<line x1="96.87" y1="653.3" x2="96.87" y2="655.0999999999999" stroke="#d0d0d0" stroke-width="0.5"/>
<line x1="98.78" y1="653.3" x2="98.78" y2="655.0999999999999" stroke="#d0d0d0" stroke-width="0.5"/>
<line x1="100.34" y1="653.3" x2="100.34" y2="655.0999999999999" stroke="#d0d0d0" stroke-width="0.5"/>
<line x1="101.65" y1="653.3" x2="101.65" y2="655.0999999999999" stroke="#d0d0d0" stroke-width="0.5"/>
<line x1="102.79" y1="653.3" x2="102.79" y2="655.0999999999999" stroke="#d0d0d0" stroke-width="0.5"/>
<line x1="103.80" y1="653.3" x2="103.80" y2="655.0999999999999" stroke="#d0d0d0" stroke-width="0.5"/>
<text x="79.63" y="662.60" font-family="&quot;Liberation Sans&quot;, sans-serif" font-size="5.4" fill="#555" text-anchor="start" textLength="6.0" lengthAdjust="spacingAndGlyphs">10<tspan dy="-1.8" font-size="3.2">2</tspan></text>
<line x1="104.70" y1="653.3" x2="104.70" y2="656.5" stroke="#bdbdbd" stroke-width="0.7"/>
<line x1="110.62" y1="653.3" x2="110.62" y2="655.0999999999999" stroke="#d0d0d0" stroke-width="0.5"/>
<line x1="114.08" y1="653.3" x2="114.08" y2="655.0999999999999" stroke="#d0d0d0" stroke-width="0.5"/>
<line x1="116.54" y1="653.3" x2="116.54" y2="655.0999999999999" stroke="#d0d0d0" stroke-width="0.5"/>
<line x1="118.45" y1="653.3" x2="118.45" y2="655.0999999999999" stroke="#d0d0d0" stroke-width="0.5"/>
<line x1="120.00" y1="653.3" x2="120.00" y2="655.0999999999999" stroke="#d0d0d0" stroke-width="0.5"/>
<line x1="121.32" y1="653.3" x2="121.32" y2="655.0999999999999" stroke="#d0d0d0" stroke-width="0.5"/>
<line x1="122.46" y1="653.3" x2="122.46" y2="655.0999999999999" stroke="#d0d0d0" stroke-width="0.5"/>
<line x1="123.47" y1="653.3" x2="123.47" y2="655.0999999999999" stroke="#d0d0d0" stroke-width="0.5"/>
<text x="99.30" y="662.60" font-family="&quot;Liberation Sans&quot;, sans-serif" font-size="5.4" fill="#555" text-anchor="start" textLength="6.0" lengthAdjust="spacingAndGlyphs">10<tspan dy="-1.8" font-size="3.2">3</tspan></text>
<line x1="124.37" y1="653.3" x2="124.37" y2="656.5" stroke="#bdbdbd" stroke-width="0.7"/>
<line x1="130.29" y1="653.3" x2="130.29" y2="655.0999999999999" stroke="#d0d0d0" stroke-width="0.5"/>
<line x1="133.75" y1="653.3" x2="133.75" y2="655.0999999999999" stroke="#d0d0d0" stroke-width="0.5"/>
<line x1="136.21" y1="653.3" x2="136.21" y2="655.0999999999999" stroke="#d0d0d0" stroke-width="0.5"/>
<line x1="138.11" y1="653.3" x2="138.11" y2="655.0999999999999" stroke="#d0d0d0" stroke-width="0.5"/>
<line x1="139.67" y1="653.3" x2="139.67" y2="655.0999999999999" stroke="#d0d0d0" stroke-width="0.5"/>
<line x1="140.99" y1="653.3" x2="140.99" y2="655.0999999999999" stroke="#d0d0d0" stroke-width="0.5"/>
<line x1="142.13" y1="653.3" x2="142.13" y2="655.0999999999999" stroke="#d0d0d0" stroke-width="0.5"/>
<line x1="143.13" y1="653.3" x2="143.13" y2="655.0999999999999" stroke="#d0d0d0" stroke-width="0.5"/>
<text x="118.97" y="662.60" font-family="&quot;Liberation Sans&quot;, sans-serif" font-size="5.4" fill="#555" text-anchor="start" textLength="6.0" lengthAdjust="spacingAndGlyphs">10<tspan dy="-1.8" font-size="3.2">4</tspan></text>
<line x1="144.03" y1="653.3" x2="144.03" y2="656.5" stroke="#bdbdbd" stroke-width="0.7"/>
<line x1="149.95" y1="653.3" x2="149.95" y2="655.0999999999999" stroke="#d0d0d0" stroke-width="0.5"/>
<line x1="153.42" y1="653.3" x2="153.42" y2="655.0999999999999" stroke="#d0d0d0" stroke-width="0.5"/>
<line x1="155.87" y1="653.3" x2="155.87" y2="655.0999999999999" stroke="#d0d0d0" stroke-width="0.5"/>
<line x1="157.78" y1="653.3" x2="157.78" y2="655.0999999999999" stroke="#d0d0d0" stroke-width="0.5"/>
<line x1="159.34" y1="653.3" x2="159.34" y2="655.0999999999999" stroke="#d0d0d0" stroke-width="0.5"/>
<line x1="160.65" y1="653.3" x2="160.65" y2="655.0999999999999" stroke="#d0d0d0" stroke-width="0.5"/>
<line x1="161.79" y1="653.3" x2="161.79" y2="655.0999999999999" stroke="#d0d0d0" stroke-width="0.5"/>
<line x1="162.80" y1="653.3" x2="162.80" y2="655.0999999999999" stroke="#d0d0d0" stroke-width="0.5"/>
<text x="138.63" y="662.60" font-family="&quot;Liberation Sans&quot;, sans-serif" font-size="5.4" fill="#555" text-anchor="start" textLength="6.0" lengthAdjust="spacingAndGlyphs">10<tspan dy="-1.8" font-size="3.2">5</tspan></text>
<line x1="163.70" y1="653.3" x2="163.70" y2="656.5" stroke="#bdbdbd" stroke-width="0.7"/>
<text x="158.30" y="662.60" font-family="&quot;Liberation Sans&quot;, sans-serif" font-size="5.4" fill="#555" text-anchor="start" textLength="6.0" lengthAdjust="spacingAndGlyphs">10<tspan dy="-1.8" font-size="3.2">6</tspan></text>
<text transform="translate(23.50,615.85) rotate(-90)" x="-0.52" y="0" font-family="&quot;Liberation Sans&quot;, sans-serif" font-size="6.6" fill="#333" textLength="43.89" lengthAdjust="spacingAndGlyphs" >Percent of Max</text>
<text x="64.19" y="526.10" font-family="&quot;Liberation Serif&quot;, serif" font-size="16.3" fill="#000" font-weight="bold" stroke="#000" stroke-width="0.3" textLength="31.57" lengthAdjust="spacingAndGlyphs" >CD3</text>
<rect x="95.80" y="517.85" width="2.70" height="1.5" fill="#000"/>
<text x="101.40" y="526.10" font-family="&quot;Liberation Serif&quot;, serif" font-size="16.3" fill="#000" font-weight="bold" stroke="#000" stroke-width="0.3" textLength="39.28" lengthAdjust="spacingAndGlyphs" >CD56</text>
<path d="M140.80,519.20 H146.50 M143.65,516.35 V522.05" stroke="#000" stroke-width="1.3" fill="none"/>
<rect x="2.6" y="674.40" width="14.9" height="5.7" fill="#000"/>
<text x="25.78" y="683.90" font-family="&quot;Liberation Serif&quot;, serif" font-size="13.3" fill="#000" textLength="64.07" lengthAdjust="spacingAndGlyphs" >Ctl- (RPMI)</text>
<rect x="105.7" y="674.85" width="13.6" height="4.8" fill="#4f7fbd" stroke="#1e2a3a" stroke-width="0.9"/>
<text x="127.93" y="683.90" font-family="&quot;Liberation Serif&quot;, serif" font-size="13.3" fill="#000" textLength="26.69" lengthAdjust="spacingAndGlyphs" >NPL/</text>
<text x="154.02" y="683.90" font-family="&quot;Liberation Serif&quot;, serif" font-size="13.3" fill="#000" font-style="italic" textLength="44.55" lengthAdjust="spacingAndGlyphs" >T.gondii</text>
<text x="198.01" y="683.90" font-family="&quot;Liberation Serif&quot;, serif" font-size="13.3" fill="#000" textLength="35.06" lengthAdjust="spacingAndGlyphs" >-FITC</text>
<line x1="308" y1="525.90" x2="308" y2="662.70" stroke="#1c1c1c" stroke-width="1.7"/>
<line x1="304" y1="661.9" x2="435" y2="661.9" stroke="#1c1c1c" stroke-width="1.7"/>
<line x1="304" y1="526.50" x2="308" y2="526.50" stroke="#1c1c1c" stroke-width="1.3"/>
<text x="279.59" y="531.50" font-family="&quot;Liberation Serif&quot;, serif" font-size="14.6" fill="#111" font-weight="bold" stroke="#111" stroke-width="0.3" textLength="23.43" lengthAdjust="spacingAndGlyphs" >100</text>
<line x1="304" y1="560.35" x2="308" y2="560.35" stroke="#1c1c1c" stroke-width="1.3"/>
<text x="287.32" y="565.35" font-family="&quot;Liberation Serif&quot;, serif" font-size="14.6" fill="#111" font-weight="bold" stroke="#111" stroke-width="0.3" textLength="15.62" lengthAdjust="spacingAndGlyphs" >75</text>
<line x1="304" y1="594.20" x2="308" y2="594.20" stroke="#1c1c1c" stroke-width="1.3"/>
<text x="287.40" y="599.20" font-family="&quot;Liberation Serif&quot;, serif" font-size="14.6" fill="#111" font-weight="bold" stroke="#111" stroke-width="0.3" textLength="15.62" lengthAdjust="spacingAndGlyphs" >50</text>
<line x1="304" y1="628.05" x2="308" y2="628.05" stroke="#1c1c1c" stroke-width="1.3"/>
<text x="287.32" y="633.05" font-family="&quot;Liberation Serif&quot;, serif" font-size="14.6" fill="#111" font-weight="bold" stroke="#111" stroke-width="0.3" textLength="15.62" lengthAdjust="spacingAndGlyphs" >25</text>
<line x1="304" y1="661.90" x2="308" y2="661.90" stroke="#1c1c1c" stroke-width="1.3"/>
<text x="295.21" y="666.90" font-family="&quot;Liberation Serif&quot;, serif" font-size="14.6" fill="#111" font-weight="bold" stroke="#111" stroke-width="0.3" textLength="7.81" lengthAdjust="spacingAndGlyphs" >0</text>
<line x1="344.0" y1="661.9" x2="344.0" y2="666.1" stroke="#1c1c1c" stroke-width="1.3"/>
<line x1="398.6" y1="661.9" x2="398.6" y2="666.1" stroke="#1c1c1c" stroke-width="1.3"/>
<text x="323.11" y="680.70" font-family="&quot;Liberation Serif&quot;, serif" font-size="15.0" fill="#111" font-weight="bold" stroke="#111" stroke-width="0.3" textLength="33.49" lengthAdjust="spacingAndGlyphs" >Toxo</text>
<rect x="360.25" y="676.55" width="4.4" height="1.6" fill="#111"/>
<text x="374.36" y="680.70" font-family="&quot;Liberation Serif&quot;, serif" font-size="15.0" fill="#111" font-weight="bold" stroke="#111" stroke-width="0.3" textLength="33.18" lengthAdjust="spacingAndGlyphs" >Toxo</text>
<path d="M411.45,675.80 H419.55 M415.50,671.80 V679.70" stroke="#111" stroke-width="1.35" fill="none"/>
<line x1="330.1" y1="550.5" x2="358.3" y2="550.5" stroke="#1c1c1c" stroke-width="1.5"/>
<line x1="384.7" y1="608" x2="412.7" y2="608" stroke="#1c1c1c" stroke-width="1.5"/>
<circle cx="330.1" cy="549.8" r="4.25" fill="#c8def8" stroke="#1c1c1c" stroke-width="0.95"/>
<circle cx="344.2" cy="544.2" r="4.25" fill="#c8def8" stroke="#1c1c1c" stroke-width="0.95"/>
<circle cx="358.3" cy="539.1" r="4.25" fill="#c8def8" stroke="#1c1c1c" stroke-width="0.95"/>
<circle cx="358.3" cy="551.2" r="4.25" fill="#c8def8" stroke="#1c1c1c" stroke-width="0.95"/>
<circle cx="344" cy="596.8" r="4.25" fill="#c8def8" stroke="#1c1c1c" stroke-width="0.95"/>
<circle cx="344" cy="618.4" r="4.25" fill="#c8def8" stroke="#1c1c1c" stroke-width="0.95"/>
<circle cx="384.7" cy="597.8" r="4.25" fill="#fddfc0" stroke="#1c1c1c" stroke-width="0.95"/>
<circle cx="398.6" cy="601.8" r="4.25" fill="#fddfc0" stroke="#1c1c1c" stroke-width="0.95"/>
<circle cx="384.7" cy="608" r="4.25" fill="#fddfc0" stroke="#1c1c1c" stroke-width="0.95"/>
<circle cx="412.7" cy="608" r="4.25" fill="#fddfc0" stroke="#1c1c1c" stroke-width="0.95"/>
<circle cx="391.6" cy="632" r="4.25" fill="#fddfc0" stroke="#1c1c1c" stroke-width="0.95"/>
<circle cx="405.5" cy="630.1" r="4.25" fill="#fddfc0" stroke="#1c1c1c" stroke-width="0.95"/>
<path d="M343.9,519.4 V517.5 H399.1 V519.4" fill="none" stroke="#1c1c1c" stroke-width="1.25"/>
<path d="M373.60,504.05 L374.19,506.04 L376.26,505.98 L374.55,507.16 L375.25,509.12 L373.60,507.85 L371.95,509.12 L372.65,507.16 L370.94,505.98 L373.01,506.04 Z" fill="#1a1a1a" stroke="#1a1a1a" stroke-width="0.35" stroke-linejoin="round"/>
<text transform="translate(263.00,646.70) rotate(-90)" x="-1.53" y="0" font-family="&quot;Liberation Serif&quot;, serif" font-size="15.0" fill="#111" font-weight="bold" stroke="#111" stroke-width="0.3" textLength="110.62" lengthAdjust="spacingAndGlyphs" >% positive CD56</text>
<path d="M248.95,534.35 H255.45 M252.20,531.10 V537.60" stroke="#111" stroke-width="0.95" fill="none"/>
<line x1="557.5" y1="525.90" x2="557.5" y2="662.70" stroke="#1c1c1c" stroke-width="1.7"/>
<line x1="553.5" y1="661.9" x2="685" y2="661.9" stroke="#1c1c1c" stroke-width="1.7"/>
<line x1="553.5" y1="526.50" x2="557.5" y2="526.50" stroke="#1c1c1c" stroke-width="1.3"/>
<text x="513.47" y="531.50" font-family="&quot;Liberation Serif&quot;, serif" font-size="14.6" fill="#111" font-weight="bold" stroke="#111" stroke-width="0.3" textLength="39.05" lengthAdjust="spacingAndGlyphs" >30000</text>
<line x1="553.5" y1="571.63" x2="557.5" y2="571.63" stroke="#1c1c1c" stroke-width="1.3"/>
<text x="513.47" y="576.63" font-family="&quot;Liberation Serif&quot;, serif" font-size="14.6" fill="#111" font-weight="bold" stroke="#111" stroke-width="0.3" textLength="39.06" lengthAdjust="spacingAndGlyphs" >20000</text>
<line x1="553.5" y1="616.77" x2="557.5" y2="616.77" stroke="#1c1c1c" stroke-width="1.3"/>
<text x="513.47" y="621.77" font-family="&quot;Liberation Serif&quot;, serif" font-size="14.6" fill="#111" font-weight="bold" stroke="#111" stroke-width="0.3" textLength="39.05" lengthAdjust="spacingAndGlyphs" >10000</text>
<line x1="553.5" y1="661.90" x2="557.5" y2="661.90" stroke="#1c1c1c" stroke-width="1.3"/>
<text x="544.71" y="666.90" font-family="&quot;Liberation Serif&quot;, serif" font-size="14.6" fill="#111" font-weight="bold" stroke="#111" stroke-width="0.3" textLength="7.81" lengthAdjust="spacingAndGlyphs" >0</text>
<line x1="593.8" y1="661.9" x2="593.8" y2="666.1" stroke="#1c1c1c" stroke-width="1.3"/>
<line x1="648.0" y1="661.9" x2="648.0" y2="666.1" stroke="#1c1c1c" stroke-width="1.3"/>
<text x="572.91" y="680.70" font-family="&quot;Liberation Serif&quot;, serif" font-size="15.0" fill="#111" font-weight="bold" stroke="#111" stroke-width="0.3" textLength="33.49" lengthAdjust="spacingAndGlyphs" >Toxo</text>
<rect x="610.05" y="676.55" width="4.4" height="1.6" fill="#111"/>
<text x="623.76" y="680.70" font-family="&quot;Liberation Serif&quot;, serif" font-size="15.0" fill="#111" font-weight="bold" stroke="#111" stroke-width="0.3" textLength="33.18" lengthAdjust="spacingAndGlyphs" >Toxo</text>
<path d="M660.85,675.80 H668.95 M664.90,671.80 V679.70" stroke="#111" stroke-width="1.35" fill="none"/>
<line x1="575.6" y1="626.9" x2="612.1" y2="626.9" stroke="#1c1c1c" stroke-width="1.5"/>
<line x1="629.8" y1="637.2" x2="664.3" y2="637.2" stroke="#1c1c1c" stroke-width="1.5"/>
<circle cx="593.8" cy="540.3" r="4.25" fill="#c8def8" stroke="#1c1c1c" stroke-width="0.95"/>
<circle cx="593.8" cy="607.6" r="4.25" fill="#c8def8" stroke="#1c1c1c" stroke-width="0.95"/>
<circle cx="593.8" cy="622.8" r="4.25" fill="#c8def8" stroke="#1c1c1c" stroke-width="0.95"/>
<circle cx="579.6" cy="633.2" r="4.25" fill="#c8def8" stroke="#1c1c1c" stroke-width="0.95"/>
<circle cx="593.8" cy="631.6" r="4.25" fill="#c8def8" stroke="#1c1c1c" stroke-width="0.95"/>
<circle cx="607.7" cy="632.6" r="4.25" fill="#c8def8" stroke="#1c1c1c" stroke-width="0.95"/>
<circle cx="648" cy="626.7" r="4.25" fill="#fddfc0" stroke="#1c1c1c" stroke-width="0.95"/>
<circle cx="634.2" cy="633.8" r="4.25" fill="#fddfc0" stroke="#1c1c1c" stroke-width="0.95"/>
<circle cx="661.9" cy="634.8" r="4.25" fill="#fddfc0" stroke="#1c1c1c" stroke-width="0.95"/>
<circle cx="648" cy="639.1" r="4.25" fill="#fddfc0" stroke="#1c1c1c" stroke-width="0.95"/>
<circle cx="655" cy="647.6" r="4.25" fill="#fddfc0" stroke="#1c1c1c" stroke-width="0.95"/>
<circle cx="641.1" cy="655.3" r="4.25" fill="#fddfc0" stroke="#1c1c1c" stroke-width="0.95"/>
<path d="M593.8,520.4 V518.5 H648 V520.4" fill="none" stroke="#1c1c1c" stroke-width="1.25"/>
<path d="M621.00,507.20 L621.59,509.19 L623.66,509.13 L621.95,510.31 L622.65,512.27 L621.00,511.00 L619.35,512.27 L620.05,510.31 L618.34,509.13 L620.41,509.19 Z" fill="#1a1a1a" stroke="#1a1a1a" stroke-width="0.35" stroke-linejoin="round"/>
<text transform="translate(477.50,638.40) rotate(-90)" x="-0.15" y="0" font-family="&quot;Liberation Serif&quot;, serif" font-size="15.0" fill="#111" font-weight="bold" stroke="#111" stroke-width="0.3" textLength="99.93" lengthAdjust="spacingAndGlyphs" >Antigen uptake</text>
<text transform="translate(498.60,626.70) rotate(-90)" x="-0.75" y="0" font-family="&quot;Liberation Serif&quot;, serif" font-size="15.0" fill="#111" font-weight="bold" stroke="#111" stroke-width="0.3" textLength="36.90" lengthAdjust="spacingAndGlyphs" >CD56</text>
<path d="M484.85,586.80 H491.35 M488.10,583.55 V590.05" stroke="#111" stroke-width="0.95" fill="none"/>
<text transform="translate(498.60,578.50) rotate(-90)" x="-0.23" y="0" font-family="&quot;Liberation Serif&quot;, serif" font-size="15.0" fill="#111" font-weight="bold" stroke="#111" stroke-width="0.3" textLength="29.34" lengthAdjust="spacingAndGlyphs" >MFI</text>
<text x="-0.94" y="746.40" font-family="&quot;Liberation Serif&quot;, serif" font-size="23.4" fill="#000" stroke="#000" stroke-width="0.3">G</text>
<text x="223.50" y="746.40" font-family="&quot;Liberation Serif&quot;, serif" font-size="23.4" fill="#000" stroke="#000" stroke-width="0.3">H</text>
<path d="M48.54,887.60 L48.54,885.48 L49.04,885.48 L49.04,879.76 L49.54,879.76 L49.54,877.74 L50.04,877.74 L50.04,882.91 L50.54,882.91 L50.54,886.08 L51.04,886.08 L51.04,885.72 L51.54,885.72 L51.54,885.08 L52.04,885.08 L52.04,882.43 L52.54,882.43 L52.54,883.50 L53.04,883.50 L53.04,886.65 L53.54,886.65 L53.54,887.03 L54.04,887.03 L54.04,886.38 L54.54,886.38 L54.54,885.67 L55.04,885.67 L55.04,885.87 L55.54,885.87 L55.54,884.32 L56.04,884.32 L56.04,883.68 L56.54,883.68 L56.54,883.16 L57.04,883.16 L57.04,885.40 L57.54,885.40 L57.54,882.28 L58.04,882.28 L58.04,883.03 L58.54,883.03 L58.54,877.94 L59.04,877.94 L59.04,875.88 L59.54,875.88 L59.54,875.47 L60.04,875.47 L60.04,881.87 L60.54,881.87 L60.54,878.57 L61.04,878.57 L61.04,875.51 L61.54,875.51 L61.54,875.78 L62.04,875.78 L62.04,879.53 L62.54,879.53 L62.54,881.82 L63.04,881.82 L63.04,878.39 L63.54,878.39 L63.54,875.63 L64.04,875.63 L64.04,878.17 L64.54,878.17 L64.54,881.90 L65.04,881.90 L65.04,877.63 L65.54,877.63 L65.54,878.86 L66.04,878.86 L66.04,879.23 L66.54,879.23 L66.54,879.05 L67.04,879.05 L67.04,880.54 L67.54,880.54 L67.54,877.16 L68.04,877.16 L68.04,881.76 L68.54,881.76 L68.54,881.31 L69.04,881.31 L69.04,879.46 L69.54,879.46 L69.54,877.84 L70.04,877.84 L70.04,883.95 L70.54,883.95 L70.54,878.72 L71.04,878.72 L71.04,882.77 L71.54,882.77 L71.54,878.96 L72.04,878.96 L72.04,879.23 L72.54,879.23 L72.54,882.89 L73.04,882.89 L73.04,879.87 L73.54,879.87 L73.54,884.24 L74.04,884.24 L74.04,879.87 L74.54,879.87 L74.54,877.50 L75.04,877.50 L75.04,877.02 L75.54,877.02 L75.54,877.57 L76.04,877.57 L76.04,879.65 L76.54,879.65 L76.54,882.80 L77.04,882.80 L77.04,876.34 L77.54,876.34 L77.54,877.83 L78.04,877.83 L78.04,876.94 L78.54,876.94 L78.54,883.43 L79.04,883.43 L79.04,876.00 L79.54,876.00 L79.54,874.98 L80.04,874.98 L80.04,874.25 L80.54,874.25 L80.54,875.66 L81.04,875.66 L81.04,881.09 L81.54,881.09 L81.54,881.42 L82.04,881.42 L82.04,880.29 L82.54,880.29 L82.54,882.85 L83.04,882.85 L83.04,880.34 L83.54,880.34 L83.54,871.52 L84.04,871.52 L84.04,867.46 L84.54,867.46 L84.54,872.94 L85.04,872.94 L85.04,866.91 L85.54,866.91 L85.54,858.06 L86.04,858.06 L86.04,860.34 L86.54,860.34 L86.54,854.81 L87.04,854.81 L87.04,850.43 L87.54,850.43 L87.54,846.01 L88.04,846.01 L88.04,841.01 L88.54,841.01 L88.54,836.89 L89.04,836.89 L89.04,834.73 L89.54,834.73 L89.54,834.10 L90.04,834.10 L90.04,842.67 L90.54,842.67 L90.54,833.42 L91.04,833.42 L91.04,841.01 L91.54,841.01 L91.54,824.95 L92.04,824.95 L92.04,820.36 L92.54,820.36 L92.54,824.86 L93.04,824.86 L93.04,823.65 L93.54,823.65 L93.54,815.27 L94.04,815.27 L94.04,807.39 L94.54,807.39 L94.54,808.09 L95.04,808.09 L95.04,801.59 L95.54,801.59 L95.54,807.39 L96.04,807.39 L96.04,784.40 L96.54,784.40 L96.54,778.47 L97.04,778.47 L97.04,775.71 L97.54,775.71 L97.54,768.77 L98.04,768.77 L98.04,766.76 L98.54,766.76 L98.54,764.76 L99.04,764.76 L99.04,763.96 L99.54,763.96 L99.54,763.80 L100.04,763.80 L100.04,763.69 L100.54,763.69 L100.54,765.59 L101.04,765.59 L101.04,773.66 L101.54,773.66 L101.54,775.26 L102.04,775.26 L102.04,781.08 L102.54,781.08 L102.54,801.69 L103.04,801.69 L103.04,793.73 L103.54,793.73 L103.54,799.89 L104.04,799.89 L104.04,820.94 L104.54,820.94 L104.54,820.48 L105.04,820.48 L105.04,823.20 L105.54,823.20 L105.54,836.45 L106.04,836.45 L106.04,839.24 L106.54,839.24 L106.54,848.65 L107.04,848.65 L107.04,856.69 L107.54,856.69 L107.54,871.26 L108.04,871.26 L108.04,879.05 L108.54,879.05 L108.54,879.59 L109.04,879.59 L109.04,885.01 L109.54,885.01 L109.54,882.25 L110.04,882.25 L110.04,884.64 L110.54,884.64 L110.54,886.15 L111.04,886.15 L111.04,887.35 L111.54,887.35 L111.54,887.54 L111.74,887.54 L111.74,887.60 Z" fill="#000" />
<path d="M110.22,887.60 L110.22,885.92 L110.72,885.92 L110.72,883.85 L111.22,883.85 L111.22,882.62 L111.72,882.62 L111.72,881.18 L112.22,881.18 L112.22,883.33 L112.72,883.33 L112.72,875.10 L113.22,875.10 L113.22,877.52 L113.72,877.52 L113.72,873.59 L114.22,873.59 L114.22,869.91 L114.72,869.91 L114.72,862.83 L115.22,862.83 L115.22,854.14 L115.72,854.14 L115.72,846.48 L116.22,846.48 L116.22,840.89 L116.72,840.89 L116.72,835.25 L117.22,835.25 L117.22,834.91 L117.72,834.91 L117.72,820.52 L118.22,820.52 L118.22,815.54 L118.72,815.54 L118.72,818.65 L119.22,818.65 L119.22,802.18 L119.72,802.18 L119.72,791.56 L120.22,791.56 L120.22,784.17 L120.72,784.17 L120.72,778.36 L121.22,778.36 L121.22,770.86 L121.72,770.86 L121.72,764.07 L122.22,764.07 L122.22,764.41 L122.72,764.41 L122.72,768.21 L123.22,768.21 L123.22,772.65 L123.72,772.65 L123.72,777.30 L124.22,777.30 L124.22,782.60 L124.72,782.60 L124.72,795.03 L125.22,795.03 L125.22,805.28 L125.72,805.28 L125.72,805.33 L126.22,805.33 L126.22,805.68 L126.72,805.68 L126.72,809.12 L127.22,809.12 L127.22,814.73 L127.72,814.73 L127.72,818.47 L128.22,818.47 L128.22,823.20 L128.72,823.20 L128.72,828.62 L129.22,828.62 L129.22,829.49 L129.72,829.49 L129.72,819.08 L130.22,819.08 L130.22,825.62 L130.72,825.62 L130.72,815.63 L131.22,815.63 L131.22,818.11 L131.72,818.11 L131.72,813.14 L132.22,813.14 L132.22,818.05 L132.72,818.05 L132.72,810.40 L133.22,810.40 L133.22,815.18 L133.72,815.18 L133.72,819.18 L134.22,819.18 L134.22,822.36 L134.72,822.36 L134.72,835.98 L135.22,835.98 L135.22,834.80 L135.72,834.80 L135.72,836.37 L136.22,836.37 L136.22,841.79 L136.72,841.79 L136.72,850.97 L137.22,850.97 L137.22,845.70 L137.72,845.70 L137.72,844.23 L138.22,844.23 L138.22,853.82 L138.72,853.82 L138.72,857.32 L139.22,857.32 L139.22,864.65 L139.72,864.65 L139.72,858.31 L140.22,858.31 L140.22,863.63 L140.72,863.63 L140.72,870.16 L141.22,870.16 L141.22,872.60 L141.72,872.60 L141.72,875.49 L142.22,875.49 L142.22,868.29 L142.72,868.29 L142.72,871.08 L143.22,871.08 L143.22,871.54 L143.72,871.54 L143.72,873.35 L144.22,873.35 L144.22,882.11 L144.72,882.11 L144.72,878.95 L145.22,878.95 L145.22,883.40 L145.72,883.40 L145.72,879.30 L146.22,879.30 L146.22,883.46 L146.72,883.46 L146.72,880.63 L147.22,880.63 L147.22,880.12 L147.72,880.12 L147.72,883.51 L148.22,883.51 L148.22,885.04 L148.72,885.04 L148.72,880.60 L149.22,880.60 L149.22,882.96 L149.72,882.96 L149.72,883.34 L150.22,883.34 L150.22,881.83 L150.72,881.83 L150.72,882.58 L151.22,882.58 L151.22,882.12 L151.72,882.12 L151.72,882.50 L152.22,882.50 L152.22,882.87 L152.72,882.87 L152.72,884.34 L153.22,884.34 L153.22,884.74 L153.72,884.74 L153.72,883.45 L154.22,883.45 L154.22,883.35 L154.72,883.35 L154.72,884.01 L155.22,884.01 L155.22,885.27 L155.72,885.27 L155.72,883.92 L156.22,883.92 L156.22,884.30 L156.72,884.30 L156.72,884.19 L157.22,884.19 L157.22,886.01 L157.72,886.01 L157.72,885.23 L158.22,885.23 L158.22,884.24 L158.72,884.24 L158.72,884.27 L159.22,884.27 L159.22,884.81 L159.72,884.81 L159.72,885.24 L160.22,885.24 L160.22,885.52 L160.72,885.52 L160.72,884.26 L161.22,884.26 L161.22,884.29 L161.72,884.29 L161.72,885.59 L162.22,885.59 L162.22,884.59 L162.72,884.59 L162.72,884.16 L163.22,884.16 L163.22,884.11 L163.72,884.11 L163.72,886.46 L164.22,886.46 L164.22,883.90 L164.72,883.90 L164.72,884.62 L165.22,884.62 L165.22,883.90 L165.72,883.90 L165.72,885.18 L166.22,885.18 L166.22,887.05 L166.72,887.05 L166.72,887.58 L166.77,887.58 L166.77,887.60 Z" fill="#37608f" />
<line x1="42.8" y1="887.1" x2="166.8" y2="887.1" stroke="#8fa9c9" stroke-width="0.8"/>
<path d="M42.8,763.3 L166.8,763.3 L166.8,887.6 L42.8,887.6" fill="none" stroke="#c4c4c4" stroke-width="0.9"/>
<line x1="42.8" y1="763.6999999999999" x2="42.8" y2="887.6" stroke="#555" stroke-width="1.7"/>
<line x1="37.599999999999994" y1="887.60" x2="42.8" y2="887.60" stroke="#bdbdbd" stroke-width="0.8"/>
<text x="37.40" y="889.50" font-family="&quot;Liberation Sans&quot;, sans-serif" font-size="5.4" fill="#555" text-anchor="end" >0</text>
<line x1="40.4" y1="881.38" x2="42.8" y2="881.38" stroke="#d8d8d8" stroke-width="0.6"/>
<line x1="40.4" y1="875.17" x2="42.8" y2="875.17" stroke="#d8d8d8" stroke-width="0.6"/>
<line x1="40.4" y1="868.96" x2="42.8" y2="868.96" stroke="#d8d8d8" stroke-width="0.6"/>
<line x1="40.4" y1="862.74" x2="42.8" y2="862.74" stroke="#d8d8d8" stroke-width="0.6"/>
<line x1="37.599999999999994" y1="856.52" x2="42.8" y2="856.52" stroke="#bdbdbd" stroke-width="0.8"/>
<text x="37.40" y="858.42" font-family="&quot;Liberation Sans&quot;, sans-serif" font-size="5.4" fill="#555" text-anchor="end" >25</text>
<line x1="40.4" y1="850.31" x2="42.8" y2="850.31" stroke="#d8d8d8" stroke-width="0.6"/>
<line x1="40.4" y1="844.10" x2="42.8" y2="844.10" stroke="#d8d8d8" stroke-width="0.6"/>
<line x1="40.4" y1="837.88" x2="42.8" y2="837.88" stroke="#d8d8d8" stroke-width="0.6"/>
<line x1="40.4" y1="831.66" x2="42.8" y2="831.66" stroke="#d8d8d8" stroke-width="0.6"/>
<line x1="37.599999999999994" y1="825.45" x2="42.8" y2="825.45" stroke="#bdbdbd" stroke-width="0.8"/>
<text x="37.40" y="827.35" font-family="&quot;Liberation Sans&quot;, sans-serif" font-size="5.4" fill="#555" text-anchor="end" >50</text>
<line x1="40.4" y1="819.24" x2="42.8" y2="819.24" stroke="#d8d8d8" stroke-width="0.6"/>
<line x1="40.4" y1="813.02" x2="42.8" y2="813.02" stroke="#d8d8d8" stroke-width="0.6"/>
<line x1="40.4" y1="806.80" x2="42.8" y2="806.80" stroke="#d8d8d8" stroke-width="0.6"/>
<line x1="40.4" y1="800.59" x2="42.8" y2="800.59" stroke="#d8d8d8" stroke-width="0.6"/>
<line x1="37.599999999999994" y1="794.38" x2="42.8" y2="794.38" stroke="#bdbdbd" stroke-width="0.8"/>
<text x="37.40" y="796.27" font-family="&quot;Liberation Sans&quot;, sans-serif" font-size="5.4" fill="#555" text-anchor="end" >75</text>
<line x1="40.4" y1="788.16" x2="42.8" y2="788.16" stroke="#d8d8d8" stroke-width="0.6"/>
<line x1="40.4" y1="781.94" x2="42.8" y2="781.94" stroke="#d8d8d8" stroke-width="0.6"/>
<line x1="40.4" y1="775.73" x2="42.8" y2="775.73" stroke="#d8d8d8" stroke-width="0.6"/>
<line x1="40.4" y1="769.51" x2="42.8" y2="769.51" stroke="#d8d8d8" stroke-width="0.6"/>
<line x1="37.599999999999994" y1="763.30" x2="42.8" y2="763.30" stroke="#bdbdbd" stroke-width="0.8"/>
<text x="37.40" y="765.20" font-family="&quot;Liberation Sans&quot;, sans-serif" font-size="5.4" fill="#555" text-anchor="end" >100</text>
<line x1="42.80" y1="887.6" x2="42.80" y2="890.8000000000001" stroke="#bdbdbd" stroke-width="0.7"/>
<line x1="49.02" y1="887.6" x2="49.02" y2="889.4" stroke="#d0d0d0" stroke-width="0.5"/>
<line x1="52.66" y1="887.6" x2="52.66" y2="889.4" stroke="#d0d0d0" stroke-width="0.5"/>
<line x1="55.24" y1="887.6" x2="55.24" y2="889.4" stroke="#d0d0d0" stroke-width="0.5"/>
<line x1="57.25" y1="887.6" x2="57.25" y2="889.4" stroke="#d0d0d0" stroke-width="0.5"/>
<line x1="58.88" y1="887.6" x2="58.88" y2="889.4" stroke="#d0d0d0" stroke-width="0.5"/>
<line x1="60.27" y1="887.6" x2="60.27" y2="889.4" stroke="#d0d0d0" stroke-width="0.5"/>
<line x1="61.46" y1="887.6" x2="61.46" y2="889.4" stroke="#d0d0d0" stroke-width="0.5"/>
<line x1="62.52" y1="887.6" x2="62.52" y2="889.4" stroke="#d0d0d0" stroke-width="0.5"/>
<text x="37.40" y="896.90" font-family="&quot;Liberation Sans&quot;, sans-serif" font-size="5.4" fill="#555" text-anchor="start" textLength="6.0" lengthAdjust="spacingAndGlyphs">10<tspan dy="-1.8" font-size="3.2">0</tspan></text>
<line x1="63.47" y1="887.6" x2="63.47" y2="890.8000000000001" stroke="#bdbdbd" stroke-width="0.7"/>
<line x1="69.69" y1="887.6" x2="69.69" y2="889.4" stroke="#d0d0d0" stroke-width="0.5"/>
<line x1="73.33" y1="887.6" x2="73.33" y2="889.4" stroke="#d0d0d0" stroke-width="0.5"/>
<line x1="75.91" y1="887.6" x2="75.91" y2="889.4" stroke="#d0d0d0" stroke-width="0.5"/>
<line x1="77.91" y1="887.6" x2="77.91" y2="889.4" stroke="#d0d0d0" stroke-width="0.5"/>
<line x1="79.55" y1="887.6" x2="79.55" y2="889.4" stroke="#d0d0d0" stroke-width="0.5"/>
<line x1="80.93" y1="887.6" x2="80.93" y2="889.4" stroke="#d0d0d0" stroke-width="0.5"/>
<line x1="82.13" y1="887.6" x2="82.13" y2="889.4" stroke="#d0d0d0" stroke-width="0.5"/>
<line x1="83.19" y1="887.6" x2="83.19" y2="889.4" stroke="#d0d0d0" stroke-width="0.5"/>
<text x="58.07" y="896.90" font-family="&quot;Liberation Sans&quot;, sans-serif" font-size="5.4" fill="#555" text-anchor="start" textLength="6.0" lengthAdjust="spacingAndGlyphs">10<tspan dy="-1.8" font-size="3.2">1</tspan></text>
<line x1="84.13" y1="887.6" x2="84.13" y2="890.8000000000001" stroke="#bdbdbd" stroke-width="0.7"/>
<line x1="90.35" y1="887.6" x2="90.35" y2="889.4" stroke="#d0d0d0" stroke-width="0.5"/>
<line x1="93.99" y1="887.6" x2="93.99" y2="889.4" stroke="#d0d0d0" stroke-width="0.5"/>
<line x1="96.58" y1="887.6" x2="96.58" y2="889.4" stroke="#d0d0d0" stroke-width="0.5"/>
<line x1="98.58" y1="887.6" x2="98.58" y2="889.4" stroke="#d0d0d0" stroke-width="0.5"/>
<line x1="100.22" y1="887.6" x2="100.22" y2="889.4" stroke="#d0d0d0" stroke-width="0.5"/>
<line x1="101.60" y1="887.6" x2="101.60" y2="889.4" stroke="#d0d0d0" stroke-width="0.5"/>
<line x1="102.80" y1="887.6" x2="102.80" y2="889.4" stroke="#d0d0d0" stroke-width="0.5"/>
<line x1="103.85" y1="887.6" x2="103.85" y2="889.4" stroke="#d0d0d0" stroke-width="0.5"/>
<text x="78.73" y="896.90" font-family="&quot;Liberation Sans&quot;, sans-serif" font-size="5.4" fill="#555" text-anchor="start" textLength="6.0" lengthAdjust="spacingAndGlyphs">10<tspan dy="-1.8" font-size="3.2">2</tspan></text>
<line x1="104.80" y1="887.6" x2="104.80" y2="890.8000000000001" stroke="#bdbdbd" stroke-width="0.7"/>
<line x1="111.02" y1="887.6" x2="111.02" y2="889.4" stroke="#d0d0d0" stroke-width="0.5"/>
<line x1="114.66" y1="887.6" x2="114.66" y2="889.4" stroke="#d0d0d0" stroke-width="0.5"/>
<line x1="117.24" y1="887.6" x2="117.24" y2="889.4" stroke="#d0d0d0" stroke-width="0.5"/>
<line x1="119.25" y1="887.6" x2="119.25" y2="889.4" stroke="#d0d0d0" stroke-width="0.5"/>
<line x1="120.88" y1="887.6" x2="120.88" y2="889.4" stroke="#d0d0d0" stroke-width="0.5"/>
<line x1="122.27" y1="887.6" x2="122.27" y2="889.4" stroke="#d0d0d0" stroke-width="0.5"/>
<line x1="123.46" y1="887.6" x2="123.46" y2="889.4" stroke="#d0d0d0" stroke-width="0.5"/>
<line x1="124.52" y1="887.6" x2="124.52" y2="889.4" stroke="#d0d0d0" stroke-width="0.5"/>
<text x="99.40" y="896.90" font-family="&quot;Liberation Sans&quot;, sans-serif" font-size="5.4" fill="#555" text-anchor="start" textLength="6.0" lengthAdjust="spacingAndGlyphs">10<tspan dy="-1.8" font-size="3.2">3</tspan></text>
<line x1="125.47" y1="887.6" x2="125.47" y2="890.8000000000001" stroke="#bdbdbd" stroke-width="0.7"/>
<line x1="131.69" y1="887.6" x2="131.69" y2="889.4" stroke="#d0d0d0" stroke-width="0.5"/>
<line x1="135.33" y1="887.6" x2="135.33" y2="889.4" stroke="#d0d0d0" stroke-width="0.5"/>
<line x1="137.91" y1="887.6" x2="137.91" y2="889.4" stroke="#d0d0d0" stroke-width="0.5"/>
<line x1="139.91" y1="887.6" x2="139.91" y2="889.4" stroke="#d0d0d0" stroke-width="0.5"/>
<line x1="141.55" y1="887.6" x2="141.55" y2="889.4" stroke="#d0d0d0" stroke-width="0.5"/>
<line x1="142.93" y1="887.6" x2="142.93" y2="889.4" stroke="#d0d0d0" stroke-width="0.5"/>
<line x1="144.13" y1="887.6" x2="144.13" y2="889.4" stroke="#d0d0d0" stroke-width="0.5"/>
<line x1="145.19" y1="887.6" x2="145.19" y2="889.4" stroke="#d0d0d0" stroke-width="0.5"/>
<text x="120.07" y="896.90" font-family="&quot;Liberation Sans&quot;, sans-serif" font-size="5.4" fill="#555" text-anchor="start" textLength="6.0" lengthAdjust="spacingAndGlyphs">10<tspan dy="-1.8" font-size="3.2">4</tspan></text>
<line x1="146.13" y1="887.6" x2="146.13" y2="890.8000000000001" stroke="#bdbdbd" stroke-width="0.7"/>
<line x1="152.35" y1="887.6" x2="152.35" y2="889.4" stroke="#d0d0d0" stroke-width="0.5"/>
<line x1="155.99" y1="887.6" x2="155.99" y2="889.4" stroke="#d0d0d0" stroke-width="0.5"/>
<line x1="158.58" y1="887.6" x2="158.58" y2="889.4" stroke="#d0d0d0" stroke-width="0.5"/>
<line x1="160.58" y1="887.6" x2="160.58" y2="889.4" stroke="#d0d0d0" stroke-width="0.5"/>
<line x1="162.22" y1="887.6" x2="162.22" y2="889.4" stroke="#d0d0d0" stroke-width="0.5"/>
<line x1="163.60" y1="887.6" x2="163.60" y2="889.4" stroke="#d0d0d0" stroke-width="0.5"/>
<line x1="164.80" y1="887.6" x2="164.80" y2="889.4" stroke="#d0d0d0" stroke-width="0.5"/>
<line x1="165.85" y1="887.6" x2="165.85" y2="889.4" stroke="#d0d0d0" stroke-width="0.5"/>
<text x="140.73" y="896.90" font-family="&quot;Liberation Sans&quot;, sans-serif" font-size="5.4" fill="#555" text-anchor="start" textLength="6.0" lengthAdjust="spacingAndGlyphs">10<tspan dy="-1.8" font-size="3.2">5</tspan></text>
<line x1="166.80" y1="887.6" x2="166.80" y2="890.8000000000001" stroke="#bdbdbd" stroke-width="0.7"/>
<text x="161.40" y="896.90" font-family="&quot;Liberation Sans&quot;, sans-serif" font-size="5.4" fill="#555" text-anchor="start" textLength="6.0" lengthAdjust="spacingAndGlyphs">10<tspan dy="-1.8" font-size="3.2">6</tspan></text>
<text transform="translate(18.50,847.80) rotate(-90)" x="-0.54" y="0" font-family="&quot;Liberation Sans&quot;, sans-serif" font-size="6.8" fill="#333" textLength="45.31" lengthAdjust="spacingAndGlyphs" >Percent of Max</text>
<text x="63.49" y="755.60" font-family="&quot;Liberation Serif&quot;, serif" font-size="16.3" fill="#000" font-weight="bold" stroke="#000" stroke-width="0.3" textLength="31.57" lengthAdjust="spacingAndGlyphs" >CD3</text>
<rect x="95.20" y="747.10" width="2.60" height="1.5" fill="#000"/>
<text x="100.60" y="755.60" font-family="&quot;Liberation Serif&quot;, serif" font-size="16.3" fill="#000" font-weight="bold" stroke="#000" stroke-width="0.3" textLength="39.26" lengthAdjust="spacingAndGlyphs" >CD19</text>
<path d="M139.90,747.70 H145.60 M142.75,744.85 V750.55" stroke="#000" stroke-width="1.3" fill="none"/>
<rect x="2.6" y="909.25" width="14.9" height="5.7" fill="#000"/>
<text x="25.78" y="918.90" font-family="&quot;Liberation Serif&quot;, serif" font-size="13.3" fill="#000" textLength="64.07" lengthAdjust="spacingAndGlyphs" >Ctl- (RPMI)</text>
<rect x="105.7" y="909.70" width="13.6" height="4.8" fill="#4f7fbd" stroke="#1e2a3a" stroke-width="0.9"/>
<text x="127.93" y="918.90" font-family="&quot;Liberation Serif&quot;, serif" font-size="13.3" fill="#000" textLength="26.69" lengthAdjust="spacingAndGlyphs" >NPL/</text>
<text x="154.02" y="918.90" font-family="&quot;Liberation Serif&quot;, serif" font-size="13.3" fill="#000" font-style="italic" textLength="44.55" lengthAdjust="spacingAndGlyphs" >T.gondii</text>
<text x="198.01" y="918.90" font-family="&quot;Liberation Serif&quot;, serif" font-size="13.3" fill="#000" textLength="35.06" lengthAdjust="spacingAndGlyphs" >-FITC</text>
<line x1="308" y1="760.90" x2="308" y2="898.30" stroke="#1c1c1c" stroke-width="1.7"/>
<line x1="304" y1="897.5" x2="435" y2="897.5" stroke="#1c1c1c" stroke-width="1.7"/>
<line x1="304" y1="761.50" x2="308" y2="761.50" stroke="#1c1c1c" stroke-width="1.3"/>
<text x="279.59" y="766.50" font-family="&quot;Liberation Serif&quot;, serif" font-size="14.6" fill="#111" font-weight="bold" stroke="#111" stroke-width="0.3" textLength="23.43" lengthAdjust="spacingAndGlyphs" >100</text>
<line x1="304" y1="795.50" x2="308" y2="795.50" stroke="#1c1c1c" stroke-width="1.3"/>
<text x="287.32" y="800.50" font-family="&quot;Liberation Serif&quot;, serif" font-size="14.6" fill="#111" font-weight="bold" stroke="#111" stroke-width="0.3" textLength="15.62" lengthAdjust="spacingAndGlyphs" >75</text>
<line x1="304" y1="829.50" x2="308" y2="829.50" stroke="#1c1c1c" stroke-width="1.3"/>
<text x="287.40" y="834.50" font-family="&quot;Liberation Serif&quot;, serif" font-size="14.6" fill="#111" font-weight="bold" stroke="#111" stroke-width="0.3" textLength="15.62" lengthAdjust="spacingAndGlyphs" >50</text>
<line x1="304" y1="863.50" x2="308" y2="863.50" stroke="#1c1c1c" stroke-width="1.3"/>
<text x="287.32" y="868.50" font-family="&quot;Liberation Serif&quot;, serif" font-size="14.6" fill="#111" font-weight="bold" stroke="#111" stroke-width="0.3" textLength="15.62" lengthAdjust="spacingAndGlyphs" >25</text>
<line x1="304" y1="897.50" x2="308" y2="897.50" stroke="#1c1c1c" stroke-width="1.3"/>
<text x="295.21" y="902.50" font-family="&quot;Liberation Serif&quot;, serif" font-size="14.6" fill="#111" font-weight="bold" stroke="#111" stroke-width="0.3" textLength="7.81" lengthAdjust="spacingAndGlyphs" >0</text>
<line x1="344.0" y1="897.5" x2="344.0" y2="901.7" stroke="#1c1c1c" stroke-width="1.3"/>
<line x1="398.6" y1="897.5" x2="398.6" y2="901.7" stroke="#1c1c1c" stroke-width="1.3"/>
<text x="323.11" y="916.30" font-family="&quot;Liberation Serif&quot;, serif" font-size="15.0" fill="#111" font-weight="bold" stroke="#111" stroke-width="0.3" textLength="33.49" lengthAdjust="spacingAndGlyphs" >Toxo</text>
<rect x="360.25" y="912.15" width="4.4" height="1.6" fill="#111"/>
<text x="374.36" y="916.30" font-family="&quot;Liberation Serif&quot;, serif" font-size="15.0" fill="#111" font-weight="bold" stroke="#111" stroke-width="0.3" textLength="33.18" lengthAdjust="spacingAndGlyphs" >Toxo</text>
<path d="M411.45,911.40 H419.55 M415.50,907.40 V915.30" stroke="#111" stroke-width="1.35" fill="none"/>
<line x1="326.2" y1="789.6" x2="362.3" y2="789.6" stroke="#1c1c1c" stroke-width="1.5"/>
<line x1="380.7" y1="814.2" x2="416.9" y2="814.2" stroke="#1c1c1c" stroke-width="1.5"/>
<circle cx="335.7" cy="772.6" r="4.25" fill="#c8def8" stroke="#1c1c1c" stroke-width="0.95"/>
<circle cx="352.5" cy="766.8" r="4.25" fill="#c8def8" stroke="#1c1c1c" stroke-width="0.95"/>
<circle cx="352.5" cy="777.4" r="4.25" fill="#c8def8" stroke="#1c1c1c" stroke-width="0.95"/>
<circle cx="344.2" cy="801.8" r="4.25" fill="#c8def8" stroke="#1c1c1c" stroke-width="0.95"/>
<circle cx="344.2" cy="821.7" r="4.25" fill="#c8def8" stroke="#1c1c1c" stroke-width="0.95"/>
<circle cx="344" cy="849.3" r="4.25" fill="#c8def8" stroke="#1c1c1c" stroke-width="0.95"/>
<circle cx="390.3" cy="799.9" r="4.25" fill="#fddfc0" stroke="#1c1c1c" stroke-width="0.95"/>
<circle cx="406.7" cy="795.4" r="4.25" fill="#fddfc0" stroke="#1c1c1c" stroke-width="0.95"/>
<circle cx="406.7" cy="806" r="4.25" fill="#fddfc0" stroke="#1c1c1c" stroke-width="0.95"/>
<circle cx="398.5" cy="823" r="4.25" fill="#fddfc0" stroke="#1c1c1c" stroke-width="0.95"/>
<circle cx="390.3" cy="834.2" r="4.25" fill="#fddfc0" stroke="#1c1c1c" stroke-width="0.95"/>
<circle cx="406.7" cy="833.8" r="4.25" fill="#fddfc0" stroke="#1c1c1c" stroke-width="0.95"/>
<path d="M343.9,753.4 V751.5 H398.7 V753.4" fill="none" stroke="#1c1c1c" stroke-width="1.25"/>
<text x="364.68" y="744.30" font-family="&quot;Liberation Serif&quot;, serif" font-size="15.5" fill="#111" textLength="18.06" lengthAdjust="spacingAndGlyphs" >n.s</text>
<text transform="translate(263.00,882.40) rotate(-90)" x="-1.53" y="0" font-family="&quot;Liberation Serif&quot;, serif" font-size="15.0" fill="#111" font-weight="bold" stroke="#111" stroke-width="0.3" textLength="110.80" lengthAdjust="spacingAndGlyphs" >% positive CD19</text>
<path d="M248.95,769.95 H255.45 M252.20,766.70 V773.20" stroke="#111" stroke-width="0.95" fill="none"/>
<line x1="557.5" y1="760.90" x2="557.5" y2="898.30" stroke="#1c1c1c" stroke-width="1.7"/>
<line x1="553.5" y1="897.5" x2="685" y2="897.5" stroke="#1c1c1c" stroke-width="1.7"/>
<line x1="553.5" y1="761.50" x2="557.5" y2="761.50" stroke="#1c1c1c" stroke-width="1.3"/>
<text x="513.47" y="766.50" font-family="&quot;Liberation Serif&quot;, serif" font-size="14.6" fill="#111" font-weight="bold" stroke="#111" stroke-width="0.3" textLength="39.06" lengthAdjust="spacingAndGlyphs" >20000</text>
<line x1="553.5" y1="795.50" x2="557.5" y2="795.50" stroke="#1c1c1c" stroke-width="1.3"/>
<text x="513.47" y="800.50" font-family="&quot;Liberation Serif&quot;, serif" font-size="14.6" fill="#111" font-weight="bold" stroke="#111" stroke-width="0.3" textLength="39.05" lengthAdjust="spacingAndGlyphs" >15000</text>
<line x1="553.5" y1="829.50" x2="557.5" y2="829.50" stroke="#1c1c1c" stroke-width="1.3"/>
<text x="513.47" y="834.50" font-family="&quot;Liberation Serif&quot;, serif" font-size="14.6" fill="#111" font-weight="bold" stroke="#111" stroke-width="0.3" textLength="39.05" lengthAdjust="spacingAndGlyphs" >10000</text>
<line x1="553.5" y1="863.50" x2="557.5" y2="863.50" stroke="#1c1c1c" stroke-width="1.3"/>
<text x="521.28" y="868.50" font-family="&quot;Liberation Serif&quot;, serif" font-size="14.6" fill="#111" font-weight="bold" stroke="#111" stroke-width="0.3" textLength="31.24" lengthAdjust="spacingAndGlyphs" >5000</text>
<line x1="553.5" y1="897.50" x2="557.5" y2="897.50" stroke="#1c1c1c" stroke-width="1.3"/>
<text x="544.71" y="902.50" font-family="&quot;Liberation Serif&quot;, serif" font-size="14.6" fill="#111" font-weight="bold" stroke="#111" stroke-width="0.3" textLength="7.81" lengthAdjust="spacingAndGlyphs" >0</text>
<line x1="593.8" y1="897.5" x2="593.8" y2="901.7" stroke="#1c1c1c" stroke-width="1.3"/>
<line x1="648.0" y1="897.5" x2="648.0" y2="901.7" stroke="#1c1c1c" stroke-width="1.3"/>
<text x="572.91" y="916.30" font-family="&quot;Liberation Serif&quot;, serif" font-size="15.0" fill="#111" font-weight="bold" stroke="#111" stroke-width="0.3" textLength="33.49" lengthAdjust="spacingAndGlyphs" >Toxo</text>
<rect x="610.05" y="912.15" width="4.4" height="1.6" fill="#111"/>
<text x="623.76" y="916.30" font-family="&quot;Liberation Serif&quot;, serif" font-size="15.0" fill="#111" font-weight="bold" stroke="#111" stroke-width="0.3" textLength="33.18" lengthAdjust="spacingAndGlyphs" >Toxo</text>
<path d="M660.85,911.40 H668.95 M664.90,907.40 V915.30" stroke="#111" stroke-width="1.35" fill="none"/>
<line x1="575.6" y1="806.3" x2="612.1" y2="806.3" stroke="#1c1c1c" stroke-width="1.5"/>
<line x1="630" y1="827.3" x2="664" y2="827.3" stroke="#1c1c1c" stroke-width="1.5"/>
<circle cx="593.8" cy="783.6" r="4.25" fill="#c8def8" stroke="#1c1c1c" stroke-width="0.95"/>
<circle cx="585.5" cy="792.7" r="4.25" fill="#c8def8" stroke="#1c1c1c" stroke-width="0.95"/>
<circle cx="602.2" cy="798.4" r="4.25" fill="#c8def8" stroke="#1c1c1c" stroke-width="0.95"/>
<circle cx="593.8" cy="815.1" r="4.25" fill="#c8def8" stroke="#1c1c1c" stroke-width="0.95"/>
<circle cx="585.5" cy="839.7" r="4.25" fill="#c8def8" stroke="#1c1c1c" stroke-width="0.95"/>
<circle cx="602.2" cy="834.8" r="4.25" fill="#c8def8" stroke="#1c1c1c" stroke-width="0.95"/>
<circle cx="648.1" cy="794.1" r="4.25" fill="#fddfc0" stroke="#1c1c1c" stroke-width="0.95"/>
<circle cx="648.1" cy="822" r="4.25" fill="#fddfc0" stroke="#1c1c1c" stroke-width="0.95"/>
<circle cx="634.2" cy="825.2" r="4.25" fill="#fddfc0" stroke="#1c1c1c" stroke-width="0.95"/>
<circle cx="662" cy="828.1" r="4.25" fill="#fddfc0" stroke="#1c1c1c" stroke-width="0.95"/>
<circle cx="648.1" cy="836.2" r="4.25" fill="#fddfc0" stroke="#1c1c1c" stroke-width="0.95"/>
<circle cx="648.1" cy="856.1" r="4.25" fill="#fddfc0" stroke="#1c1c1c" stroke-width="0.95"/>
<path d="M598.3,754.4 V752.5 H648.1 V754.4" fill="none" stroke="#1c1c1c" stroke-width="1.25"/>
<text x="614.68" y="745.80" font-family="&quot;Liberation Serif&quot;, serif" font-size="15.5" fill="#111" textLength="18.06" lengthAdjust="spacingAndGlyphs" >n.s</text>
<text transform="translate(477.50,874.50) rotate(-90)" x="-0.15" y="0" font-family="&quot;Liberation Serif&quot;, serif" font-size="15.0" fill="#111" font-weight="bold" stroke="#111" stroke-width="0.3" textLength="100.93" lengthAdjust="spacingAndGlyphs" >Antigen uptake</text>
<text transform="translate(498.60,863.15) rotate(-90)" x="-0.76" y="0" font-family="&quot;Liberation Serif&quot;, serif" font-size="15.0" fill="#111" font-weight="bold" stroke="#111" stroke-width="0.3" textLength="36.98" lengthAdjust="spacingAndGlyphs" >CD19</text>
<path d="M484.85,823.25 H491.35 M488.10,820.00 V826.50" stroke="#111" stroke-width="0.95" fill="none"/>
<text transform="translate(498.60,814.95) rotate(-90)" x="-0.23" y="0" font-family="&quot;Liberation Serif&quot;, serif" font-size="15.0" fill="#111" font-weight="bold" stroke="#111" stroke-width="0.3" textLength="29.34" lengthAdjust="spacingAndGlyphs" >MFI</text>
</svg></body></html>
